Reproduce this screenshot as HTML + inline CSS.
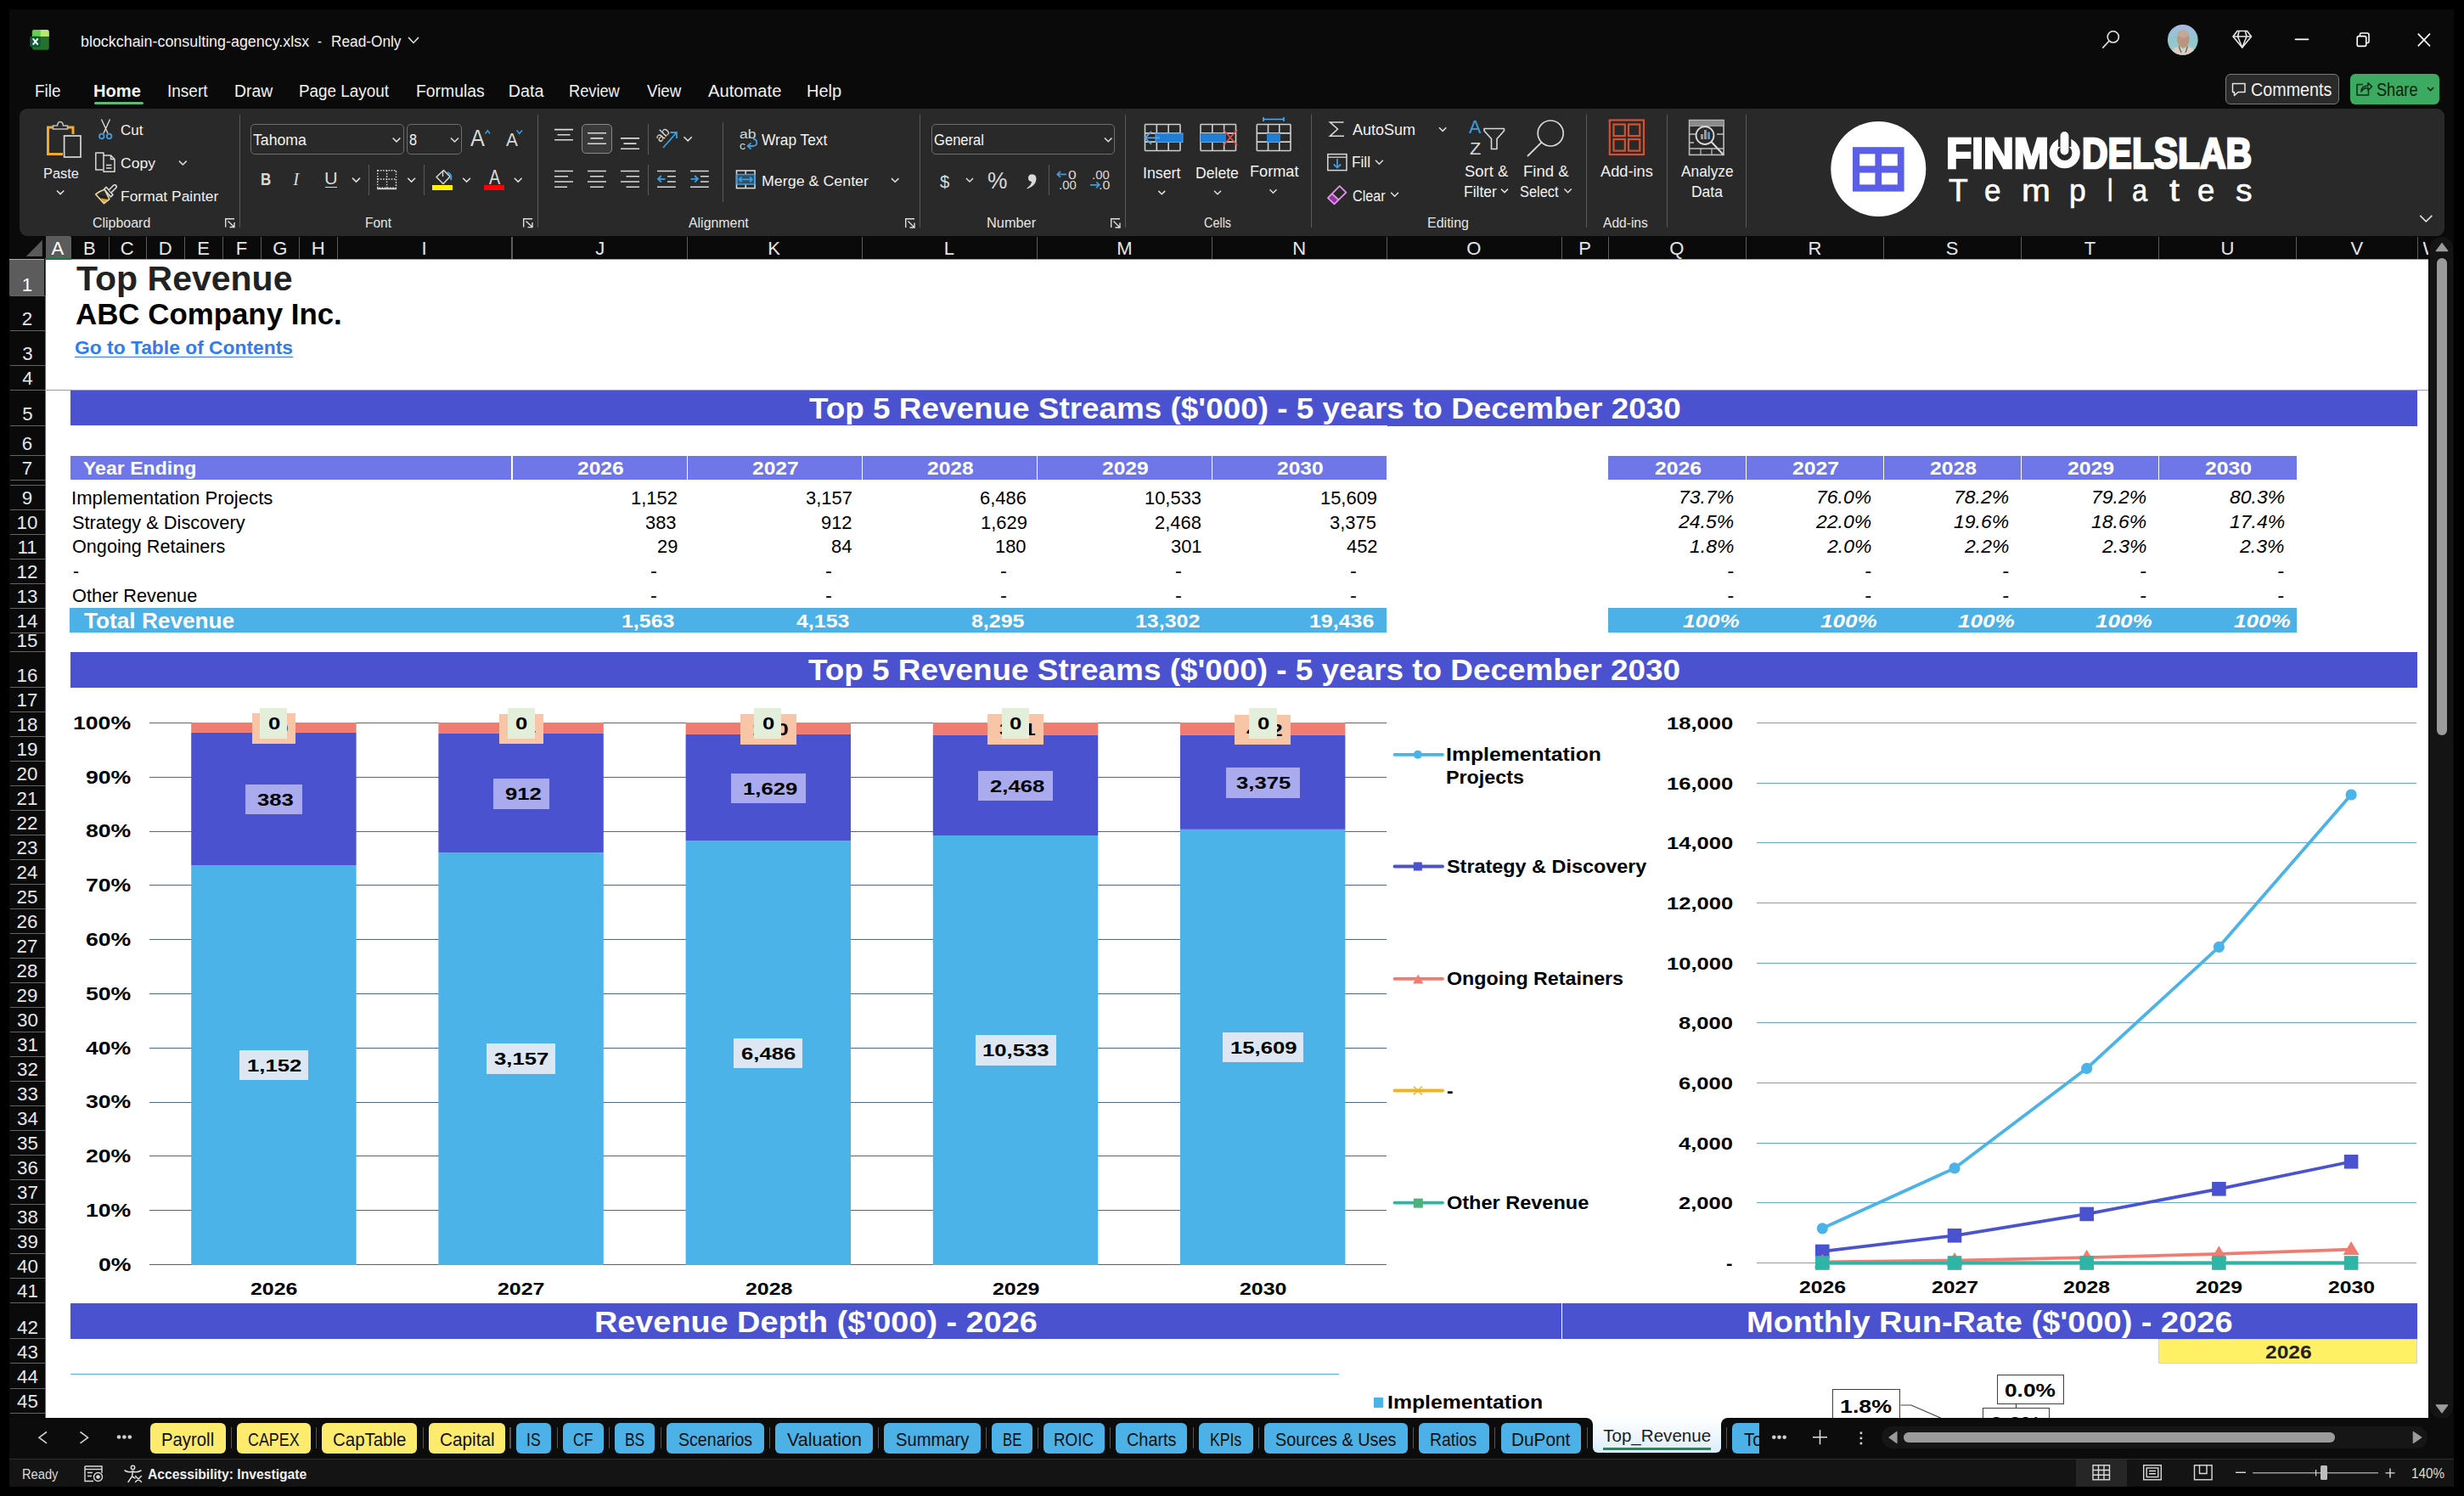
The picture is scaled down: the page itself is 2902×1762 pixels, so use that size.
<!DOCTYPE html>
<html><head><meta charset="utf-8"><title>Top Revenue</title>
<style>
html,body{margin:0;padding:0;width:2902px;height:1762px;overflow:hidden;background:#000;}
body{position:relative;font-family:"Liberation Sans",sans-serif;}
svg{overflow:visible}
</style></head><body>
<div style="position:absolute;left:0.00px;top:0.00px;width:2902.00px;height:1762.00px;background:#000;"></div>
<div style="position:absolute;left:11.00px;top:11.00px;width:2879.00px;height:1740.00px;background:#0a0a0a;"></div>
<svg style="position:absolute;left:0;top:0" width="2902" height="1762" viewBox="0 0 2902 1762"><g>
<rect x="37.9" y="34.9" width="19.9" height="23.8" rx="2.6" fill="#23722b"/>
<path d="M40.5 34.9 L47.3 34.9 L47.3 43 L37.9 43 L37.9 37.5 Q37.9 34.9 40.5 34.9 Z" fill="#66cc55"/>
<path d="M47.3 34.9 L55.2 34.9 Q57.8 34.9 57.8 37.5 L57.8 43 L47.3 43 Z" fill="#b8e670"/>
<rect x="35.2" y="42.7" width="12.4" height="12.7" rx="2" fill="#0c5b36"/>
<path d="M38.7 45.3 L44.7 52.6 M44.7 45.3 L38.7 52.6" stroke="#f4fff8" stroke-width="2.1"/>
</g></svg>
<span style="position:absolute;left:94.53px;top:39.50px;font:normal 400 18.41px/1 'Liberation Sans';color:#f2f2f2;white-space:pre;transform:scaleX(0.9718);transform-origin:0 0;">blockchain-consulting-agency.xlsx</span>
<span style="position:absolute;left:374.20px;top:39.50px;font:normal 400 18.41px/1 'Liberation Sans';color:#f2f2f2;white-space:pre;transform:scaleX(0.8000);transform-origin:0 0;">-</span>
<span style="position:absolute;left:389.56px;top:39.50px;font:normal 400 18.41px/1 'Liberation Sans';color:#f2f2f2;white-space:pre;transform:scaleX(0.9372);transform-origin:0 0;">Read-Only</span>
<svg style="position:absolute;left:0;top:0" width="2902" height="1762" viewBox="0 0 2902 1762"><path d="M481 44 L487 50.5 L493 44" fill="none" stroke="#e8e8e8" stroke-width="1.5"/><g fill="none" stroke="#e6e6e6" stroke-width="1.6">
<circle cx="2488.8" cy="43.4" r="6.6"/>
<path d="M2484 48.3 L2476.3 56.6"/>
</g><defs><clipPath id="avc"><circle cx="2570.8" cy="46.9" r="17.9"/></clipPath>
<linearGradient id="avg" x1="0" y1="0" x2="0" y2="1"><stop offset="0" stop-color="#a9b9e0"/><stop offset="0.3" stop-color="#9cc0d8"/><stop offset="0.45" stop-color="#8fc6cc"/><stop offset="1" stop-color="#9ccfd0"/></linearGradient></defs>
<g clip-path="url(#avc)">
<rect x="2552" y="28" width="38" height="38" fill="url(#avg)"/>
<ellipse cx="2571.3" cy="46" rx="7.3" ry="10.2" fill="#b8967f"/>
<ellipse cx="2571.3" cy="40" rx="6.6" ry="4.5" fill="#c3a896"/>
<path d="M2556 66 Q2558 56 2566 54.5 L2571.3 58 L2576.5 54.5 Q2585 56 2587 66 Z" fill="#d9cfc2"/>
<path d="M2566 54.5 L2569 62 M2576.5 54.5 L2574 62" stroke="#6b5a4c" stroke-width="1.2"/>
</g><g fill="none" stroke="#e6e6e6" stroke-width="1.6" stroke-linejoin="round">
<path d="M2635 36.5 L2646.5 36.5 L2651.5 43 L2640.8 56 L2630 43 Z"/>
<path d="M2630 43 L2651.5 43 M2637 37 L2635.5 43 L2640.8 56 L2646 43 L2644.5 37"/>
</g><path d="M2703.5 46.3 L2718.5 46.3" stroke="#ffffff" stroke-width="1.7" stroke-linecap="round"/><g fill="none" stroke="#ffffff" stroke-width="1.6">
<rect x="2776.2" y="42.6" width="10.6" height="11.8" rx="2"/>
<path d="M2779.5 42 L2779.5 40.5 Q2779.5 39 2781 39 L2788 39 Q2790 39 2790 41 L2790 49 Q2790 50.5 2788.5 50.5 L2787 50.5"/>
</g><path d="M2847.8 39.6 L2862 54.4 M2862 39.6 L2847.8 54.4" stroke="#ffffff" stroke-width="1.6"/></svg>
<span style="position:absolute;left:41.24px;top:97.60px;font:normal 400 19.71px/1 'Liberation Sans';color:#f2f2f2;white-space:pre;transform:scaleX(0.9613);transform-origin:0 0;">File</span>
<span style="position:absolute;left:110.36px;top:97.60px;font:normal 700 19.43px/1 'Liberation Sans';color:#f2f2f2;white-space:pre;transform:scaleX(1.0353);transform-origin:0 0;">Home</span>
<span style="position:absolute;left:197.03px;top:97.60px;font:normal 400 19.71px/1 'Liberation Sans';color:#f2f2f2;white-space:pre;transform:scaleX(0.9651);transform-origin:0 0;">Insert</span>
<span style="position:absolute;left:276.22px;top:97.60px;font:normal 400 19.71px/1 'Liberation Sans';color:#f2f2f2;white-space:pre;transform:scaleX(0.9836);transform-origin:0 0;">Draw</span>
<span style="position:absolute;left:352.04px;top:97.60px;font:normal 400 19.71px/1 'Liberation Sans';color:#f2f2f2;white-space:pre;transform:scaleX(0.9585);transform-origin:0 0;">Page Layout</span>
<span style="position:absolute;left:490.02px;top:97.60px;font:normal 400 19.71px/1 'Liberation Sans';color:#f2f2f2;white-space:pre;transform:scaleX(0.9845);transform-origin:0 0;">Formulas</span>
<span style="position:absolute;left:598.80px;top:97.60px;font:normal 400 19.71px/1 'Liberation Sans';color:#f2f2f2;white-space:pre;">Data</span>
<span style="position:absolute;left:669.97px;top:97.60px;font:normal 400 19.71px/1 'Liberation Sans';color:#f2f2f2;white-space:pre;transform:scaleX(0.9258);transform-origin:0 0;">Review</span>
<span style="position:absolute;left:761.80px;top:97.60px;font:normal 400 19.71px/1 'Liberation Sans';color:#f2f2f2;white-space:pre;transform:scaleX(0.9508);transform-origin:0 0;">View</span>
<span style="position:absolute;left:834.00px;top:97.60px;font:normal 400 19.71px/1 'Liberation Sans';color:#f2f2f2;white-space:pre;transform:scaleX(1.0252);transform-origin:0 0;">Automate</span>
<span style="position:absolute;left:949.89px;top:97.60px;font:normal 400 19.71px/1 'Liberation Sans';color:#f2f2f2;white-space:pre;transform:scaleX(1.0135);transform-origin:0 0;">Help</span>
<div style="position:absolute;left:111.00px;top:120.00px;width:58.00px;height:3.00px;background:#5fb878;border-radius:1.5px;"></div>
<div style="position:absolute;left:2621.00px;top:87.00px;width:134.00px;height:36.00px;background:#2a2a2a;box-sizing:border-box;border:1.3px solid #7a7a7a;border-radius:6px;"></div>
<svg style="position:absolute;left:0;top:0" width="2902" height="1762" viewBox="0 0 2902 1762"><g fill="none" stroke="#e6e6e6" stroke-width="1.5" stroke-linejoin="round">
<path d="M2629.5 98.5 L2644 98.5 L2644 108.5 L2636 108.5 L2631.5 112.5 L2631.5 108.5 L2629.5 108.5 Z"/></g></svg>
<span style="position:absolute;left:2651.47px;top:95.30px;font:normal 400 21.16px/1 'Liberation Sans';color:#f2f2f2;white-space:pre;transform:scaleX(0.9321);transform-origin:0 0;">Comments</span>
<div style="position:absolute;left:2768.00px;top:87.00px;width:105.00px;height:36.00px;background:#3caa60;border-radius:6px;"></div>
<svg style="position:absolute;left:0;top:0" width="2902" height="1762" viewBox="0 0 2902 1762"><g fill="none" stroke="#0f2a17" stroke-width="1.5" stroke-linejoin="round">
<path d="M2783 99.5 L2776 99.5 L2776 112 L2789.5 112 L2789.5 107"/>
<path d="M2781 108 Q2781 101 2789 101 L2789 97.5 L2793.5 102 L2789 106.5 L2789 103.5 Q2783.5 103.5 2781 108 Z"/></g></svg>
<span style="position:absolute;left:2799.20px;top:95.30px;font:normal 400 21.16px/1 'Liberation Sans';color:#0c1f12;white-space:pre;transform:scaleX(0.8589);transform-origin:0 0;">Share</span>
<svg style="position:absolute;left:0;top:0" width="2902" height="1762" viewBox="0 0 2902 1762"><path d="M2859 103 L2862.6 106.6 L2866.2 103" fill="none" stroke="#0c1f12" stroke-width="1.5"/></svg>
<div style="position:absolute;left:23.00px;top:128.00px;width:2856.00px;height:150.00px;background:#292929;border-radius:9px;"></div>
<div style="position:absolute;left:282.00px;top:135.00px;width:1.00px;height:133.00px;background:#5a5a5a;"></div>
<div style="position:absolute;left:633.00px;top:135.00px;width:1.00px;height:133.00px;background:#5a5a5a;"></div>
<div style="position:absolute;left:1083.00px;top:135.00px;width:1.00px;height:133.00px;background:#5a5a5a;"></div>
<div style="position:absolute;left:1325.00px;top:135.00px;width:1.00px;height:133.00px;background:#5a5a5a;"></div>
<div style="position:absolute;left:1544.00px;top:135.00px;width:1.00px;height:133.00px;background:#5a5a5a;"></div>
<div style="position:absolute;left:1868.00px;top:135.00px;width:1.00px;height:133.00px;background:#5a5a5a;"></div>
<div style="position:absolute;left:1963.00px;top:135.00px;width:1.00px;height:133.00px;background:#5a5a5a;"></div>
<div style="position:absolute;left:2056.00px;top:135.00px;width:1.00px;height:133.00px;background:#5a5a5a;"></div>
<div style="position:absolute;left:434.00px;top:194.00px;width:1.00px;height:36.00px;background:#5a5a5a;"></div>
<div style="position:absolute;left:499.00px;top:194.00px;width:1.00px;height:36.00px;background:#5a5a5a;"></div>
<div style="position:absolute;left:763.00px;top:146.00px;width:1.00px;height:36.00px;background:#5a5a5a;"></div>
<div style="position:absolute;left:763.00px;top:194.00px;width:1.00px;height:36.00px;background:#5a5a5a;"></div>
<div style="position:absolute;left:851.00px;top:144.00px;width:1.00px;height:94.00px;background:#5a5a5a;"></div>
<div style="position:absolute;left:1235.00px;top:194.00px;width:1.00px;height:36.00px;background:#5a5a5a;"></div>
<span style="position:absolute;left:109.30px;top:255.00px;font:normal 400 15.65px/1 'Liberation Sans';color:#e6e6e6;white-space:pre;transform:scaleX(1.0204);transform-origin:0 0;">Clipboard</span>
<span style="position:absolute;left:429.51px;top:255.00px;font:normal 400 15.65px/1 'Liberation Sans';color:#e6e6e6;white-space:pre;transform:scaleX(0.9919);transform-origin:0 0;">Font</span>
<span style="position:absolute;left:810.70px;top:255.00px;font:normal 400 15.65px/1 'Liberation Sans';color:#e6e6e6;white-space:pre;transform:scaleX(1.0156);transform-origin:0 0;">Alignment</span>
<span style="position:absolute;left:1162.35px;top:255.00px;font:normal 400 15.65px/1 'Liberation Sans';color:#e6e6e6;white-space:pre;transform:scaleX(1.0456);transform-origin:0 0;">Number</span>
<span style="position:absolute;left:1418.00px;top:255.00px;font:normal 400 15.65px/1 'Liberation Sans';color:#e6e6e6;white-space:pre;transform:scaleX(0.9215);transform-origin:0 0;">Cells</span>
<span style="position:absolute;left:1681.38px;top:255.00px;font:normal 400 15.65px/1 'Liberation Sans';color:#e6e6e6;white-space:pre;transform:scaleX(1.0233);transform-origin:0 0;">Editing</span>
<span style="position:absolute;left:1888.00px;top:255.00px;font:normal 400 15.65px/1 'Liberation Sans';color:#e6e6e6;white-space:pre;transform:scaleX(0.9960);transform-origin:0 0;">Add-ins</span>
<svg style="position:absolute;left:0;top:0" width="2902" height="1762" viewBox="0 0 2902 1762"><g fill="none" stroke="#e0e0e0" stroke-width="1.4"><path d="M265.7 267.5 L265.7 257.7 L276 257.7"/><path d="M268.5 260.5 L276 267.5 M276 262.0 L276 267.5 L270.5 267.5"/></g><g fill="none" stroke="#e0e0e0" stroke-width="1.4"><path d="M616.7 267.6 L616.7 257.7 L627 257.7"/><path d="M619.5 260.5 L627 267.6 M627 262.1 L627 267.6 L621.5 267.6"/></g><g fill="none" stroke="#e0e0e0" stroke-width="1.4"><path d="M1066.7 268 L1066.7 257.7 L1077 257.7"/><path d="M1069.5 260.5 L1077 268 M1077 262.5 L1077 268 L1071.5 268"/></g><g fill="none" stroke="#e0e0e0" stroke-width="1.4"><path d="M1308.7 268 L1308.7 257.7 L1319 257.7"/><path d="M1311.5 260.5 L1319 268 M1319 262.5 L1319 268 L1313.5 268"/></g><g fill="none" stroke-linejoin="miter">
<path d="M63 150 L56.5 150 L56.5 181.5 L74 181.5" stroke="#f0a830" stroke-width="3"/>
<path d="M79.5 150 L86 150 L86 158" stroke="#f0a830" stroke-width="3"/>
<path d="M62.5 152 L62.5 148 L67.5 148 Q68 143.5 71 143.5 Q74 143.5 74.5 148 L79.5 148 L79.5 152 Z" stroke="#bdbdbd" stroke-width="1.6" fill="#292929"/>
<rect x="75.6" y="160" width="19.4" height="25" stroke="#d9d9d9" stroke-width="1.7" fill="#292929"/>
</g></svg>
<span style="position:absolute;left:50.84px;top:196.00px;font:normal 400 17.10px/1 'Liberation Sans';color:#f2f2f2;white-space:pre;transform:scaleX(0.9596);transform-origin:0 0;">Paste</span>
<svg style="position:absolute;left:0;top:0" width="2902" height="1762" viewBox="0 0 2902 1762"><path d="M67 224.43 L71.15 228.57 L75.3 224.43" fill="none" stroke="#e0e0e0" stroke-width="1.5"/><g fill="none" stroke-width="1.4">
<path d="M119.5 140.5 L127 157 M129.5 140.5 L122 157" stroke="#d9d9d9"/>
<circle cx="119.8" cy="160.5" r="2.8" stroke="#3b9de0" stroke-width="1.8"/>
<circle cx="128.6" cy="160.5" r="2.8" stroke="#3b9de0" stroke-width="1.8"/>
</g></svg>
<span style="position:absolute;left:142.20px;top:146.00px;font:normal 400 16.67px/1 'Liberation Sans';color:#f2f2f2;white-space:pre;transform:scaleX(1.0193);transform-origin:0 0;">Cut</span>
<svg style="position:absolute;left:0;top:0" width="2902" height="1762" viewBox="0 0 2902 1762"><g fill="none" stroke="#d9d9d9" stroke-width="1.5" stroke-linejoin="round">
<path d="M122 183 L122 180 L112.8 180 L112.8 200 L121 200"/>
<path d="M122 183 L130.5 183 L135 187.5 L135 202.3 L122 202.3 Z"/>
<path d="M130.5 183 L130.5 187.5 L135 187.5"/>
<path d="M125 194.5 L131.5 194.5 M125 198 L131.5 198"/>
</g></svg>
<span style="position:absolute;left:142.20px;top:184.90px;font:normal 400 16.81px/1 'Liberation Sans';color:#f2f2f2;white-space:pre;transform:scaleX(1.0449);transform-origin:0 0;">Copy</span>
<svg style="position:absolute;left:0;top:0" width="2902" height="1762" viewBox="0 0 2902 1762"><path d="M211 189.62 L215.35 193.98 L219.7 189.62" fill="none" stroke="#e0e0e0" stroke-width="1.5"/><g stroke-linejoin="round">
<path d="M118.6 233.4 L127.4 235 L122.6 238.8 Z" fill="#e8a020"/>
<path d="M112.6 228.8 Q118 224.6 123.3 223.2 L128.8 234.6 L122.5 239.6 Z" fill="none" stroke="#f3d9a0" stroke-width="1.6"/>
<path d="M116 230.5 L126.5 233" stroke="#1a1a1a" stroke-width="1.4"/>
<path d="M122.6 222.9 L125.2 220.4 L133 229.4 L130.5 231.9 Z" fill="#292929" stroke="#d9d9d9" stroke-width="1.6"/>
<path d="M128.3 223.8 L133.2 218.7 Q135.2 216.9 136.7 218.4 Q138 219.9 136.2 221.7 L131.2 226.6" fill="#292929" stroke="#d9d9d9" stroke-width="1.6"/>
</g></svg>
<span style="position:absolute;left:141.68px;top:223.00px;font:normal 400 17.10px/1 'Liberation Sans';color:#f2f2f2;white-space:pre;transform:scaleX(1.0191);transform-origin:0 0;">Format Painter</span>
<div style="position:absolute;left:295.00px;top:146.00px;width:181.00px;height:36.00px;background:transparent;box-sizing:border-box;border:1.2px solid #6e6e6e;border-radius:5px;"></div>
<div style="position:absolute;left:479.00px;top:146.00px;width:65.00px;height:36.00px;background:transparent;box-sizing:border-box;border:1.2px solid #6e6e6e;border-radius:5px;"></div>
<span style="position:absolute;left:298.30px;top:155.00px;font:normal 400 18.99px/1 'Liberation Sans';color:#f2f2f2;white-space:pre;transform:scaleX(0.9303);transform-origin:0 0;">Tahoma</span>
<span style="position:absolute;left:482.40px;top:156.00px;font:normal 400 18.71px/1 'Liberation Sans';color:#f2f2f2;white-space:pre;transform:scaleX(0.8700);transform-origin:0 0;">8</span>
<svg style="position:absolute;left:0;top:0" width="2902" height="1762" viewBox="0 0 2902 1762"><path d="M462.6 162.50 L467.00 166.90 L471.4 162.50" fill="none" stroke="#e0e0e0" stroke-width="1.5"/><path d="M531 162.45 L535.50 166.95 L540 162.45" fill="none" stroke="#e0e0e0" stroke-width="1.5"/></svg>
<span style="position:absolute;left:554.00px;top:147.80px;font:normal 400 28.26px/1 'Liberation Sans';color:#d9d9d9;white-space:pre;transform:scaleX(0.8947);transform-origin:0 0;">A</span>
<svg style="position:absolute;left:0;top:0" width="2902" height="1762" viewBox="0 0 2902 1762"><path d="M571.5 157.5 L574.3 153.8 L577 157.5" fill="none" stroke="#3b9de0" stroke-width="1.5"/></svg>
<span style="position:absolute;left:595.60px;top:153.80px;font:normal 400 22.46px/1 'Liberation Sans';color:#d9d9d9;white-space:pre;transform:scaleX(0.9267);transform-origin:0 0;">A</span>
<svg style="position:absolute;left:0;top:0" width="2902" height="1762" viewBox="0 0 2902 1762"><path d="M608.5 153.5 L611.7 157.3 L615 153.5" fill="none" stroke="#3b9de0" stroke-width="1.5"/></svg>
<span style="position:absolute;left:306.99px;top:200.80px;font:normal 700 20.86px/1 'Liberation Sans';color:#d9d9d9;white-space:pre;transform:scaleX(0.8143);transform-origin:0 0;">B</span>
<span style="position:absolute;left:345.2px;top:201.3px;font:italic 400 20.5px/1 'Liberation Serif';color:#d9d9d9;">I</span>
<span style="position:absolute;left:382.42px;top:200.20px;font:normal 400 20.00px/1 'Liberation Sans';color:#d9d9d9;white-space:pre;transform:scaleX(1.0833);transform-origin:0 0;">U</span>
<div style="position:absolute;left:383.00px;top:220.00px;width:14.00px;height:1.00px;background:#d9d9d9;"></div>
<svg style="position:absolute;left:0;top:0" width="2902" height="1762" viewBox="0 0 2902 1762"><path d="M415 209.65 L419.50 214.15 L424 209.65" fill="none" stroke="#e0e0e0" stroke-width="1.5"/><g fill="none" stroke="#d9d9d9" stroke-width="1.4" stroke-dasharray="1.6 1.6">
<rect x="444.7" y="200.7" width="21.8" height="20.5"/>
<path d="M444.7 211 L466.5 211 M455.6 200.7 L455.6 221.2"/></g>
<path d="M444 222.3 L467 222.3" stroke="#d9d9d9" stroke-width="1.8"/><path d="M480.2 209.70 L484.60 214.10 L489 209.70" fill="none" stroke="#e0e0e0" stroke-width="1.5"/><g fill="none" stroke-linejoin="round">
<path d="M514 208.5 L522.5 200.5 L530 208 L522 216.5 Z" stroke="#d9d9d9" stroke-width="1.5"/>
<path d="M521.5 201.5 L521.5 208" stroke="#d9d9d9" stroke-width="1.4"/>
<path d="M527 203 Q532.5 205 531 212" stroke="#3b9de0" stroke-width="2"/></g></svg>
<div style="position:absolute;left:509.00px;top:218.00px;width:24.00px;height:6.00px;background:#fff200;"></div>
<svg style="position:absolute;left:0;top:0" width="2902" height="1762" viewBox="0 0 2902 1762"><path d="M545.2 209.70 L549.60 214.10 L554 209.70" fill="none" stroke="#e0e0e0" stroke-width="1.5"/></svg>
<span style="position:absolute;left:575.50px;top:197.80px;font:normal 400 23.48px/1 'Liberation Sans';color:#d9d9d9;white-space:pre;transform:scaleX(0.8438);transform-origin:0 0;">A</span>
<div style="position:absolute;left:570.00px;top:218.00px;width:24.00px;height:6.00px;background:#ff0000;"></div>
<svg style="position:absolute;left:0;top:0" width="2902" height="1762" viewBox="0 0 2902 1762"><path d="M605.8 209.70 L610.20 214.10 L614.6 209.70" fill="none" stroke="#e0e0e0" stroke-width="1.5"/></svg>
<div style="position:absolute;left:685.00px;top:146.00px;width:36.00px;height:35.00px;background:#3a3a3a;box-sizing:border-box;border:1.2px solid #8a8a8a;border-radius:5px;"></div>
<svg style="position:absolute;left:0;top:0" width="2902" height="1762" viewBox="0 0 2902 1762"><path d="M653 152.6 L675 152.6 M656.5 158.7 L671.5 158.7 M653 164.8 L675 164.8 " stroke="#d9d9d9" stroke-width="1.6"/><path d="M692 156.7 L714 156.7 M695.5 162.9 L710.5 162.9 M692 169.2 L714 169.2 " stroke="#d9d9d9" stroke-width="1.6"/><path d="M731 162.9 L753 162.9 M734.5 169.1 L749.5 169.1 M731 175.2 L753 175.2 " stroke="#d9d9d9" stroke-width="1.6"/><path d="M653 201.5 L675 201.5 M653 207.7 L669 207.7 M653 214 L675 214 M653 220.2 L668 220.2 " stroke="#d9d9d9" stroke-width="1.6"/><path d="M692 201.5 L714 201.5 M695 207.7 L711 207.7 M692 214 L714 214 M695 220.2 L711 220.2 " stroke="#d9d9d9" stroke-width="1.6"/><path d="M731 201.5 L753 201.5 M737.5 207.7 L753 207.7 M731 214 L753 214 M737.5 220.2 L753 220.2 " stroke="#d9d9d9" stroke-width="1.6"/><path d="M774 201.5 L795.8 201.5 M786 207.7 L795.8 207.7 M786 214 L795.8 214 M774 220.2 L795.8 220.2 " stroke="#d9d9d9" stroke-width="1.6"/><path d="M813 201.5 L834.8 201.5 M825 207.7 L834.8 207.7 M825 214 L834.8 214 M813 220.2 L834.8 220.2 " stroke="#d9d9d9" stroke-width="1.6"/><g fill="none" stroke="#3b9de0" stroke-width="1.8">
<path d="M775 210.8 L783.5 210.8 M778.8 207 L775 210.8 L778.8 214.6"/>
<path d="M813.5 210.8 L822 210.8 M818.2 207 L822 210.8 L818.2 214.6"/></g></svg>
<span style="position:absolute;left:771.5px;top:149.5px;font:400 15.5px/1 'Liberation Sans';color:#d9d9d9;transform:rotate(-45deg);transform-origin:9px 9px;">ab</span>
<svg style="position:absolute;left:0;top:0" width="2902" height="1762" viewBox="0 0 2902 1762"><g fill="none" stroke="#3b9de0" stroke-width="1.8"><path d="M781 174 L796.5 156.5 M789.5 156 L797 155.8 L797 163"/></g><path d="M805.5 161.18 L810.15 165.82 L814.8 161.18" fill="none" stroke="#e0e0e0" stroke-width="1.5"/></svg>
<span style="position:absolute;left:871.00px;top:150.50px;font:normal 400 14.38px/1 'Liberation Sans';color:#d9d9d9;white-space:pre;transform:scaleX(1.2192);transform-origin:0 0;">ab</span>
<span style="position:absolute;left:871.00px;top:165.50px;font:normal 400 12.04px/1 'Liberation Sans';color:#d9d9d9;white-space:pre;transform:scaleX(1.1667);transform-origin:0 0;">c</span>
<svg style="position:absolute;left:0;top:0" width="2902" height="1762" viewBox="0 0 2902 1762"><g fill="none" stroke="#3b9de0" stroke-width="1.8"><path d="M887 163.5 Q891.5 164 891.3 168.5 Q891 172 886.5 172 L880.5 172 M884.5 168.3 L880.5 172 L884.5 175.6"/></g></svg>
<span style="position:absolute;left:897.30px;top:156.70px;font:normal 400 17.54px/1 'Liberation Sans';color:#f2f2f2;white-space:pre;transform:scaleX(0.9879);transform-origin:0 0;">Wrap Text</span>
<svg style="position:absolute;left:0;top:0" width="2902" height="1762" viewBox="0 0 2902 1762"><g fill="none" stroke="#d9d9d9" stroke-width="1.6">
<rect x="867.5" y="201" width="21.5" height="20.6"/>
<path d="M878.2 201 L878.2 205.5 M878.2 217 L878.2 221.6"/></g>
<rect x="867.5" y="205.5" width="21.5" height="11.5" fill="#3b9de0" opacity="0.35"/>
<g fill="none" stroke="#3b9de0" stroke-width="1.7"><path d="M867.5 205.5 L889 205.5 M867.5 217 L889 217 M867.5 205.5 L867.5 217 M889 205.5 L889 217"/>
<path d="M870.5 211.3 L886 211.3 M873.5 208.3 L870.5 211.3 L873.5 214.3 M883 208.3 L886 211.3 L883 214.3"/></g></svg>
<span style="position:absolute;left:896.87px;top:204.90px;font:normal 400 17.25px/1 'Liberation Sans';color:#f2f2f2;white-space:pre;transform:scaleX(1.0346);transform-origin:0 0;">Merge &amp; Center</span>
<svg style="position:absolute;left:0;top:0" width="2902" height="1762" viewBox="0 0 2902 1762"><path d="M1050 210.10 L1054.20 214.30 L1058.4 210.10" fill="none" stroke="#e0e0e0" stroke-width="1.5"/></svg>
<div style="position:absolute;left:1097.00px;top:146.00px;width:216.00px;height:36.00px;background:transparent;box-sizing:border-box;border:1.2px solid #6e6e6e;border-radius:5px;"></div>
<span style="position:absolute;left:1099.50px;top:155.80px;font:normal 400 18.41px/1 'Liberation Sans';color:#f2f2f2;white-space:pre;transform:scaleX(0.9014);transform-origin:0 0;">General</span>
<svg style="position:absolute;left:0;top:0" width="2902" height="1762" viewBox="0 0 2902 1762"><path d="M1301 162.47 L1305.25 166.72 L1309.5 162.47" fill="none" stroke="#e0e0e0" stroke-width="1.5"/></svg>
<span style="position:absolute;left:1107.30px;top:203.50px;font:normal 400 20.95px/1 'Liberation Sans';color:#d9d9d9;white-space:pre;transform:scaleX(0.9750);transform-origin:0 0;">$</span>
<svg style="position:absolute;left:0;top:0" width="2902" height="1762" viewBox="0 0 2902 1762"><path d="M1138 210.00 L1142.00 214.00 L1146 210.00" fill="none" stroke="#e0e0e0" stroke-width="1.5"/></svg>
<span style="position:absolute;left:1162.87px;top:198.00px;font:normal 400 28.26px/1 'Liberation Sans';color:#d9d9d9;white-space:pre;transform:scaleX(0.9333);transform-origin:0 0;">%</span>
<svg style="position:absolute;left:0;top:0" width="2902" height="1762" viewBox="0 0 2902 1762"><path d="M1215.5 205.2 Q1220.8 205.2 1220.5 211.5 Q1219.8 218.5 1210 222.6 L1209.5 221.4 Q1214.5 218.5 1215 214 Q1211 213.5 1211 209.8 Q1211 205.2 1215.5 205.2 Z" fill="#d9d9d9"/></svg>
<span style="position:absolute;left:1258.00px;top:198.50px;font:normal 400 14.71px/1 'Liberation Sans';color:#d9d9d9;white-space:pre;transform:scaleX(1.1875);transform-origin:0 0;">0</span>
<span style="position:absolute;left:1246.99px;top:210.80px;font:normal 400 14.71px/1 'Liberation Sans';color:#d9d9d9;white-space:pre;transform:scaleX(1.0123);transform-origin:0 0;">.00</span>
<svg style="position:absolute;left:0;top:0" width="2902" height="1762" viewBox="0 0 2902 1762"><g fill="none" stroke="#3b9de0" stroke-width="1.7"><path d="M1245 205.3 L1256 205.3 M1249 201.8 L1245.3 205.3 L1249 208.8"/></g></svg>
<span style="position:absolute;left:1286.49px;top:198.50px;font:normal 400 14.71px/1 'Liberation Sans';color:#d9d9d9;white-space:pre;transform:scaleX(1.0123);transform-origin:0 0;">.00</span>
<span style="position:absolute;left:1293.92px;top:210.80px;font:normal 400 14.71px/1 'Liberation Sans';color:#d9d9d9;white-space:pre;transform:scaleX(1.0825);transform-origin:0 0;">.0</span>
<svg style="position:absolute;left:0;top:0" width="2902" height="1762" viewBox="0 0 2902 1762"><g fill="none" stroke="#3b9de0" stroke-width="1.7"><path d="M1284 217.8 L1295 217.8 M1291.2 214.3 L1294.8 217.8 L1291.2 221.3"/></g><path d="M1348.50 146.5 L1348.50 177.5 M1362.33 146.5 L1362.33 177.5 M1376.17 146.5 L1376.17 177.5 M1390.00 146.5 L1390.00 177.5 M1348.5 146.50 L1390 146.50 M1348.5 156.83 L1390 156.83 M1348.5 167.17 L1390 167.17 M1348.5 177.50 L1390 177.50 " stroke="#cfcfcf" stroke-width="1.6" fill="none"/><rect x="1361" y="157" width="32" height="10.5" fill="#1f7fd6"/><rect x="1361" y="157" width="32" height="10.5" fill="none" stroke="#58a8ec" stroke-width="1"/><g fill="none" stroke="#58a8ec" stroke-width="1.8"><path d="M1349 162.3 L1366 162.3 M1356 154.8 L1348.6 162.3 L1356 169.8"/></g></svg>
<span style="position:absolute;left:1346.33px;top:195.10px;font:normal 400 18.26px/1 'Liberation Sans';color:#f2f2f2;white-space:pre;transform:scaleX(0.9737);transform-origin:0 0;">Insert</span>
<svg style="position:absolute;left:0;top:0" width="2902" height="1762" viewBox="0 0 2902 1762"><path d="M1364.4 224.85 L1368.30 228.75 L1372.2 224.85" fill="none" stroke="#e0e0e0" stroke-width="1.5"/><path d="M1414.00 146.5 L1414.00 177.5 M1427.83 146.5 L1427.83 177.5 M1441.67 146.5 L1441.67 177.5 M1455.50 146.5 L1455.50 177.5 M1414 146.50 L1455.5 146.50 M1414 156.83 L1455.5 156.83 M1414 167.17 L1455.5 167.17 M1414 177.50 L1455.5 177.50 " stroke="#cfcfcf" stroke-width="1.6" fill="none"/><rect x="1414" y="157" width="30" height="10.5" fill="#1f7fd6"/><path d="M1441 153 L1457 171 M1457 153 L1441 171" stroke="#e8504a" stroke-width="1.8"/></svg>
<span style="position:absolute;left:1408.23px;top:195.10px;font:normal 400 18.26px/1 'Liberation Sans';color:#f2f2f2;white-space:pre;transform:scaleX(0.9650);transform-origin:0 0;">Delete</span>
<svg style="position:absolute;left:0;top:0" width="2902" height="1762" viewBox="0 0 2902 1762"><path d="M1430 224.80 L1434.00 228.80 L1438 224.80" fill="none" stroke="#e0e0e0" stroke-width="1.5"/><path d="M1480.30 146.5 L1480.30 177.5 M1493.53 146.5 L1493.53 177.5 M1506.77 146.5 L1506.77 177.5 M1520.00 146.5 L1520.00 177.5 M1480.3 146.50 L1520 146.50 M1480.3 156.83 L1520 156.83 M1480.3 167.17 L1520 167.17 M1480.3 177.50 L1520 177.50 " stroke="#cfcfcf" stroke-width="1.6" fill="none"/><rect x="1492" y="157" width="16" height="10.5" fill="#1f7fd6"/><path d="M1488 140.5 L1512 140.5 M1488 138 L1488 143 M1512 138 L1512 143" stroke="#58a8ec" stroke-width="1.6" fill="none"/></svg>
<span style="position:absolute;left:1471.61px;top:192.80px;font:normal 400 18.26px/1 'Liberation Sans';color:#f2f2f2;white-space:pre;transform:scaleX(0.9942);transform-origin:0 0;">Format</span>
<svg style="position:absolute;left:0;top:0" width="2902" height="1762" viewBox="0 0 2902 1762"><path d="M1495.5 223.20 L1499.50 227.20 L1503.5 223.20" fill="none" stroke="#e0e0e0" stroke-width="1.5"/><path d="M1582.5 144 L1566.5 144 L1575.5 152 L1566.5 160.2 L1583 160.2" fill="none" stroke="#d9d9d9" stroke-width="1.6"/></svg>
<span style="position:absolute;left:1593.30px;top:145.00px;font:normal 400 17.54px/1 'Liberation Sans';color:#f2f2f2;white-space:pre;transform:scaleX(1.0272);transform-origin:0 0;">AutoSum</span>
<svg style="position:absolute;left:0;top:0" width="2902" height="1762" viewBox="0 0 2902 1762"><path d="M1695 150.23 L1699.15 154.38 L1703.3 150.23" fill="none" stroke="#e0e0e0" stroke-width="1.5"/><rect x="1563.8" y="181.6" width="22.2" height="19" fill="none" stroke="#d9d9d9" stroke-width="1.5"/><path d="M1563.8 185.2 L1586 185.2" stroke="#d9d9d9" stroke-width="1.3"/><g fill="none" stroke="#3b9de0" stroke-width="1.8"><path d="M1575 187 L1575 197.5 M1570.8 193.5 L1575 197.5 L1579.2 193.5"/></g></svg>
<span style="position:absolute;left:1592.32px;top:183.30px;font:normal 400 17.54px/1 'Liberation Sans';color:#f2f2f2;white-space:pre;transform:scaleX(0.9813);transform-origin:0 0;">Fill</span>
<svg style="position:absolute;left:0;top:0" width="2902" height="1762" viewBox="0 0 2902 1762"><path d="M1620 188.80 L1624.40 193.20 L1628.8 188.80" fill="none" stroke="#e0e0e0" stroke-width="1.5"/><path d="M1563.9 233.2 L1569.1 228.5 L1576.4 235.2 L1571.5 240.4 Z" fill="#9a2fa8"/><path d="M1577.7 219.2 L1585.4 226.6 L1571.5 240.4 L1563.9 233.2 Z M1569.1 228.5 L1576.4 235.2" fill="none" stroke="#dd99e6" stroke-width="1.8" stroke-linejoin="round"/></svg>
<span style="position:absolute;left:1593.30px;top:222.80px;font:normal 400 17.54px/1 'Liberation Sans';color:#f2f2f2;white-space:pre;transform:scaleX(0.9209);transform-origin:0 0;">Clear</span>
<svg style="position:absolute;left:0;top:0" width="2902" height="1762" viewBox="0 0 2902 1762"><path d="M1638.2 226.80 L1642.60 231.20 L1647 226.80" fill="none" stroke="#e0e0e0" stroke-width="1.5"/></svg>
<span style="position:absolute;left:1729.60px;top:139.00px;font:normal 400 21.74px/1 'Liberation Sans';color:#3b9de0;white-space:pre;transform:scaleX(0.9933);transform-origin:0 0;">A</span>
<span style="position:absolute;left:1730.50px;top:163.50px;font:normal 400 21.01px/1 'Liberation Sans';color:#d9d9d9;white-space:pre;transform:scaleX(1.0385);transform-origin:0 0;">Z</span>
<svg style="position:absolute;left:0;top:0" width="2902" height="1762" viewBox="0 0 2902 1762"><path d="M1748 151.5 L1771.5 151.5 L1771.5 154 L1763 163.5 L1763 175.5 L1756.5 175.5 L1756.5 163.5 L1748 154 Z" fill="none" stroke="#d9d9d9" stroke-width="1.6" stroke-linejoin="round"/></svg>
<span style="position:absolute;left:1725.20px;top:193.80px;font:normal 400 17.54px/1 'Liberation Sans';color:#f2f2f2;white-space:pre;transform:scaleX(1.0512);transform-origin:0 0;">Sort &amp;</span>
<span style="position:absolute;left:1723.50px;top:218.00px;font:normal 400 17.54px/1 'Liberation Sans';color:#f2f2f2;white-space:pre;transform:scaleX(0.9950);transform-origin:0 0;">Filter</span>
<svg style="position:absolute;left:0;top:0" width="2902" height="1762" viewBox="0 0 2902 1762"><path d="M1768 222.60 L1772.00 226.60 L1776 222.60" fill="none" stroke="#e0e0e0" stroke-width="1.5"/><circle cx="1826.2" cy="157" r="15" fill="none" stroke="#d9d9d9" stroke-width="1.7"/><path d="M1815.6 167.6 L1799 184" stroke="#d9d9d9" stroke-width="1.8"/></svg>
<span style="position:absolute;left:1794.24px;top:193.80px;font:normal 400 17.54px/1 'Liberation Sans';color:#f2f2f2;white-space:pre;transform:scaleX(1.0553);transform-origin:0 0;">Find &amp;</span>
<span style="position:absolute;left:1790.30px;top:218.00px;font:normal 400 17.54px/1 'Liberation Sans';color:#f2f2f2;white-space:pre;transform:scaleX(0.9341);transform-origin:0 0;">Select</span>
<svg style="position:absolute;left:0;top:0" width="2902" height="1762" viewBox="0 0 2902 1762"><path d="M1842.4 222.50 L1846.60 226.70 L1850.8 222.50" fill="none" stroke="#e0e0e0" stroke-width="1.5"/><g fill="none" stroke="#d35230" stroke-width="2.2">
<rect x="1895.8" y="141.5" width="40.2" height="40.5"/>
<rect x="1900.5" y="146.5" width="13.3" height="13.6"/><rect x="1918" y="146.5" width="13.3" height="13.6"/>
<rect x="1900.5" y="164" width="13.3" height="13.6"/><rect x="1918" y="164" width="13.3" height="13.6"/></g></svg>
<span style="position:absolute;left:1885.20px;top:193.80px;font:normal 400 17.54px/1 'Liberation Sans';color:#f2f2f2;white-space:pre;transform:scaleX(1.0397);transform-origin:0 0;">Add-ins</span>
<svg style="position:absolute;left:0;top:0" width="2902" height="1762" viewBox="0 0 2902 1762"><g fill="none" stroke="#bdbdbd" stroke-width="1.6">
<rect x="1989.6" y="141.6" width="40.5" height="40.8"/>
<path d="M1989.6 148 L2030.1 148 M1989.6 158 L1997 158 M2022 158 L2030.1 158 M1989.6 168 L1995 168 M1989.6 175 L2030.1 175 M2003 175 L2003 182.4 M2016 175 L2016 182.4" stroke-width="1.3"/></g>
<rect x="1990" y="142" width="40" height="5.5" fill="#8a8a8a"/>
<circle cx="2008" cy="159.5" r="10.5" fill="#292929" stroke="#d9d9d9" stroke-width="1.8"/>
<path d="M2015.5 167 L2029.5 182" stroke="#d9d9d9" stroke-width="2"/>
<rect x="2003" y="158" width="3" height="6" fill="#9a9a9a"/><rect x="2007" y="153" width="3" height="11" fill="#9a9a9a"/><rect x="2011" y="155.5" width="3" height="8.5" fill="#3b9de0"/></svg>
<span style="position:absolute;left:1980.00px;top:193.80px;font:normal 400 17.54px/1 'Liberation Sans';color:#f2f2f2;white-space:pre;transform:scaleX(0.9875);transform-origin:0 0;">Analyze</span>
<span style="position:absolute;left:1991.60px;top:218.00px;font:normal 400 17.54px/1 'Liberation Sans';color:#f2f2f2;white-space:pre;transform:scaleX(0.9957);transform-origin:0 0;">Data</span>
<svg style="position:absolute;left:0;top:0" width="2902" height="1762" viewBox="0 0 2902 1762"><circle cx="2212.3" cy="199" r="56" fill="#ffffff"/>
<rect x="2182" y="173.2" width="60.6" height="52.4" fill="#5b5fe8"/>
<rect x="2190.2" y="181.3" width="18.2" height="14" fill="#fff"/><rect x="2216.2" y="181.3" width="18.6" height="14" fill="#fff"/>
<rect x="2190.2" y="203.5" width="18.2" height="13.9" fill="#fff"/><rect x="2216.2" y="203.5" width="18.6" height="13.9" fill="#fff"/></svg>
<span style="position:absolute;left:2292.47px;top:156.60px;font:normal 700 49.14px/1 'Liberation Sans';color:#ffffff;white-space:pre;transform:scaleX(1.0085);transform-origin:0 0;-webkit-text-stroke:2.6px #fff;">FINM</span>
<span style="position:absolute;left:2451.51px;top:156.60px;font:normal 700 49.14px/1 'Liberation Sans';color:#ffffff;white-space:pre;transform:scaleX(0.8629);transform-origin:0 0;-webkit-text-stroke:2.6px #fff;">DELSLAB</span>
<svg style="position:absolute;left:0;top:0" width="2902" height="1762" viewBox="0 0 2902 1762"><circle cx="2431.7" cy="180.2" r="13.4" fill="none" stroke="#fff" stroke-width="9.3"/>
<rect x="2424.1" y="159" width="15.2" height="14" fill="#292929"/>
<rect x="2426.6" y="155" width="9.8" height="27.5" rx="4.9" fill="#fff"/></svg>
<span style="position:absolute;left:2295.00px;top:206.90px;font:normal 400 36.09px/1 'Liberation Sans';color:#ffffff;white-space:pre;transform:scaleX(1.0318);transform-origin:0 0;-webkit-text-stroke:0.6px #fff;">T</span>
<span style="position:absolute;left:2337.03px;top:206.90px;font:normal 400 36.09px/1 'Liberation Sans';color:#ffffff;white-space:pre;transform:scaleX(0.9722);transform-origin:0 0;-webkit-text-stroke:0.6px #fff;">e</span>
<span style="position:absolute;left:2380.65px;top:206.90px;font:normal 400 36.09px/1 'Liberation Sans';color:#ffffff;white-space:pre;transform:scaleX(1.1269);transform-origin:0 0;-webkit-text-stroke:0.6px #fff;">m</span>
<span style="position:absolute;left:2437.04px;top:206.90px;font:normal 400 36.09px/1 'Liberation Sans';color:#ffffff;white-space:pre;transform:scaleX(0.9824);transform-origin:0 0;-webkit-text-stroke:0.6px #fff;">p</span>
<span style="position:absolute;left:2481.80px;top:206.90px;font:normal 400 36.09px/1 'Liberation Sans';color:#ffffff;white-space:pre;transform:scaleX(0.8000);transform-origin:0 0;-webkit-text-stroke:0.6px #fff;">l</span>
<span style="position:absolute;left:2510.99px;top:206.90px;font:normal 400 36.09px/1 'Liberation Sans';color:#ffffff;white-space:pre;transform:scaleX(0.9050);transform-origin:0 0;-webkit-text-stroke:0.6px #fff;">a</span>
<span style="position:absolute;left:2554.60px;top:206.90px;font:normal 400 36.09px/1 'Liberation Sans';color:#ffffff;white-space:pre;transform:scaleX(1.1900);transform-origin:0 0;-webkit-text-stroke:0.6px #fff;">t</span>
<span style="position:absolute;left:2588.39px;top:206.90px;font:normal 400 36.09px/1 'Liberation Sans';color:#ffffff;white-space:pre;transform:scaleX(1.0111);transform-origin:0 0;-webkit-text-stroke:0.6px #fff;">e</span>
<span style="position:absolute;left:2632.71px;top:206.90px;font:normal 400 36.09px/1 'Liberation Sans';color:#ffffff;white-space:pre;transform:scaleX(1.0875);transform-origin:0 0;-webkit-text-stroke:0.6px #fff;">s</span>
<svg style="position:absolute;left:0;top:0" width="2902" height="1762" viewBox="0 0 2902 1762"><path d="M2850.3 253.90 L2857.30 260.90 L2864.3 253.90" fill="none" stroke="#e0e0e0" stroke-width="1.6"/></svg>
<div style="position:absolute;left:11.00px;top:278.00px;width:2850.00px;height:27.00px;background:#0a0a0a;"></div>
<svg style="position:absolute;left:0;top:0" width="2902" height="1762" viewBox="0 0 2902 1762"><path d="M49.8 282.8 L49.8 302 L30.8 302 Z" fill="#5a5a5a"/></svg>
<div style="position:absolute;left:54.00px;top:278.00px;width:29.00px;height:27.00px;background:#5c5c5c;"></div>
<div style="position:absolute;left:82.00px;top:279.00px;width:2.00px;height:26.00px;background:#5e5e5e;"></div>
<div style="position:absolute;left:128.00px;top:279.00px;width:1.00px;height:26.00px;background:#5e5e5e;"></div>
<div style="position:absolute;left:172.00px;top:279.00px;width:1.00px;height:26.00px;background:#5e5e5e;"></div>
<div style="position:absolute;left:217.00px;top:279.00px;width:1.00px;height:26.00px;background:#5e5e5e;"></div>
<div style="position:absolute;left:262.00px;top:279.00px;width:1.00px;height:26.00px;background:#5e5e5e;"></div>
<div style="position:absolute;left:307.00px;top:279.00px;width:1.00px;height:26.00px;background:#5e5e5e;"></div>
<div style="position:absolute;left:352.00px;top:279.00px;width:1.00px;height:26.00px;background:#5e5e5e;"></div>
<div style="position:absolute;left:397.00px;top:279.00px;width:1.00px;height:26.00px;background:#5e5e5e;"></div>
<div style="position:absolute;left:602.00px;top:279.00px;width:2.00px;height:26.00px;background:#5e5e5e;"></div>
<div style="position:absolute;left:809.00px;top:279.00px;width:1.00px;height:26.00px;background:#5e5e5e;"></div>
<div style="position:absolute;left:1015.00px;top:279.00px;width:1.00px;height:26.00px;background:#5e5e5e;"></div>
<div style="position:absolute;left:1221.00px;top:279.00px;width:1.00px;height:26.00px;background:#5e5e5e;"></div>
<div style="position:absolute;left:1427.00px;top:279.00px;width:1.00px;height:26.00px;background:#5e5e5e;"></div>
<div style="position:absolute;left:1633.00px;top:279.00px;width:1.00px;height:26.00px;background:#5e5e5e;"></div>
<div style="position:absolute;left:1839.00px;top:279.00px;width:1.00px;height:26.00px;background:#5e5e5e;"></div>
<div style="position:absolute;left:1894.00px;top:279.00px;width:1.00px;height:26.00px;background:#5e5e5e;"></div>
<div style="position:absolute;left:2056.00px;top:279.00px;width:1.00px;height:26.00px;background:#5e5e5e;"></div>
<div style="position:absolute;left:2218.00px;top:279.00px;width:1.00px;height:26.00px;background:#5e5e5e;"></div>
<div style="position:absolute;left:2380.00px;top:279.00px;width:1.00px;height:26.00px;background:#5e5e5e;"></div>
<div style="position:absolute;left:2542.00px;top:279.00px;width:1.00px;height:26.00px;background:#5e5e5e;"></div>
<div style="position:absolute;left:2704.00px;top:279.00px;width:1.00px;height:26.00px;background:#5e5e5e;"></div>
<div style="position:absolute;left:2847.00px;top:279.00px;width:1.00px;height:26.00px;background:#5e5e5e;"></div>
<span style="position:absolute;left:60.50px;top:282.00px;font:normal 400 22.03px/1 'Liberation Sans';color:#ffffff;white-space:pre;">A</span>
<span style="position:absolute;left:98.00px;top:282.00px;font:normal 400 22.03px/1 'Liberation Sans';color:#e6e6e6;white-space:pre;">B</span>
<span style="position:absolute;left:141.70px;top:282.00px;font:normal 400 22.03px/1 'Liberation Sans';color:#e6e6e6;white-space:pre;">C</span>
<span style="position:absolute;left:186.85px;top:282.00px;font:normal 400 22.03px/1 'Liberation Sans';color:#e6e6e6;white-space:pre;">D</span>
<span style="position:absolute;left:232.25px;top:282.00px;font:normal 400 22.03px/1 'Liberation Sans';color:#e6e6e6;white-space:pre;">E</span>
<span style="position:absolute;left:277.80px;top:282.00px;font:normal 400 22.03px/1 'Liberation Sans';color:#e6e6e6;white-space:pre;">F</span>
<span style="position:absolute;left:321.35px;top:282.00px;font:normal 400 22.03px/1 'Liberation Sans';color:#e6e6e6;white-space:pre;">G</span>
<span style="position:absolute;left:366.75px;top:282.00px;font:normal 400 22.03px/1 'Liberation Sans';color:#e6e6e6;white-space:pre;">H</span>
<span style="position:absolute;left:496.60px;top:282.00px;font:normal 400 22.03px/1 'Liberation Sans';color:#e6e6e6;white-space:pre;">I</span>
<span style="position:absolute;left:701.15px;top:282.00px;font:normal 400 22.03px/1 'Liberation Sans';color:#e6e6e6;white-space:pre;">J</span>
<span style="position:absolute;left:904.30px;top:282.00px;font:normal 400 22.03px/1 'Liberation Sans';color:#e6e6e6;white-space:pre;">K</span>
<span style="position:absolute;left:1111.80px;top:282.00px;font:normal 400 22.03px/1 'Liberation Sans';color:#e6e6e6;white-space:pre;">L</span>
<span style="position:absolute;left:1315.30px;top:282.00px;font:normal 400 22.03px/1 'Liberation Sans';color:#e6e6e6;white-space:pre;">M</span>
<span style="position:absolute;left:1522.35px;top:282.00px;font:normal 400 22.03px/1 'Liberation Sans';color:#e6e6e6;white-space:pre;">N</span>
<span style="position:absolute;left:1727.35px;top:282.00px;font:normal 400 22.03px/1 'Liberation Sans';color:#e6e6e6;white-space:pre;">O</span>
<span style="position:absolute;left:1859.25px;top:282.00px;font:normal 400 22.03px/1 'Liberation Sans';color:#e6e6e6;white-space:pre;">P</span>
<span style="position:absolute;left:1966.30px;top:282.00px;font:normal 400 22.03px/1 'Liberation Sans';color:#e6e6e6;white-space:pre;">Q</span>
<span style="position:absolute;left:2129.40px;top:282.00px;font:normal 400 22.03px/1 'Liberation Sans';color:#e6e6e6;white-space:pre;">R</span>
<span style="position:absolute;left:2291.80px;top:282.00px;font:normal 400 22.03px/1 'Liberation Sans';color:#e6e6e6;white-space:pre;">S</span>
<span style="position:absolute;left:2454.80px;top:282.00px;font:normal 400 22.03px/1 'Liberation Sans';color:#e6e6e6;white-space:pre;">T</span>
<span style="position:absolute;left:2615.50px;top:282.00px;font:normal 400 22.03px/1 'Liberation Sans';color:#e6e6e6;white-space:pre;">U</span>
<span style="position:absolute;left:2768.50px;top:282.00px;font:normal 400 22.03px/1 'Liberation Sans';color:#e6e6e6;white-space:pre;">V</span>
<span style="position:absolute;left:2853.50px;top:282.00px;font:normal 400 22.03px/1 'Liberation Sans';color:#e6e6e6;white-space:pre;clip-path:inset(0 0 0 0);">W</span>
<div style="position:absolute;left:11.00px;top:305.00px;width:42.00px;height:1365.00px;background:#0a0a0a;"></div>
<div style="position:absolute;left:11.00px;top:306.00px;width:41.00px;height:42.00px;background:#5c5c5c;"></div>
<div style="position:absolute;left:11.00px;top:305.00px;width:41.00px;height:1.00px;background:#b0b0b0;"></div>
<span style="position:absolute;left:25.80px;top:324.60px;font:normal 400 22.32px/1 'Liberation Sans';color:#ffffff;white-space:pre;">1</span>
<div style="position:absolute;left:12.00px;top:348.00px;width:41.00px;height:1.00px;background:#646464;"></div>
<span style="position:absolute;left:25.80px;top:364.90px;font:normal 400 22.32px/1 'Liberation Sans';color:#e6e6e6;white-space:pre;">2</span>
<div style="position:absolute;left:12.00px;top:389.00px;width:41.00px;height:1.00px;background:#646464;"></div>
<span style="position:absolute;left:26.30px;top:406.10px;font:normal 400 22.32px/1 'Liberation Sans';color:#e6e6e6;white-space:pre;">3</span>
<div style="position:absolute;left:12.00px;top:430.00px;width:41.00px;height:1.00px;background:#646464;"></div>
<span style="position:absolute;left:26.30px;top:435.00px;font:normal 400 22.32px/1 'Liberation Sans';color:#e6e6e6;white-space:pre;">4</span>
<div style="position:absolute;left:12.00px;top:459.00px;width:41.00px;height:1.00px;background:#646464;"></div>
<span style="position:absolute;left:26.30px;top:477.10px;font:normal 400 22.32px/1 'Liberation Sans';color:#e6e6e6;white-space:pre;">5</span>
<div style="position:absolute;left:12.00px;top:501.00px;width:41.00px;height:1.00px;background:#646464;"></div>
<span style="position:absolute;left:25.80px;top:512.10px;font:normal 400 22.32px/1 'Liberation Sans';color:#e6e6e6;white-space:pre;">6</span>
<div style="position:absolute;left:12.00px;top:536.00px;width:41.00px;height:1.00px;background:#646464;"></div>
<span style="position:absolute;left:25.80px;top:541.20px;font:normal 400 22.32px/1 'Liberation Sans';color:#e6e6e6;white-space:pre;">7</span>
<div style="position:absolute;left:12.00px;top:565.00px;width:41.00px;height:1.00px;background:#646464;"></div>
<div style="position:absolute;left:12.00px;top:571.00px;width:41.00px;height:1.00px;background:#646464;"></div>
<span style="position:absolute;left:25.80px;top:576.20px;font:normal 400 22.32px/1 'Liberation Sans';color:#e6e6e6;white-space:pre;">9</span>
<div style="position:absolute;left:12.00px;top:600.00px;width:41.00px;height:1.00px;background:#646464;"></div>
<span style="position:absolute;left:19.60px;top:605.30px;font:normal 400 22.32px/1 'Liberation Sans';color:#e6e6e6;white-space:pre;">10</span>
<div style="position:absolute;left:12.00px;top:629.00px;width:41.00px;height:1.00px;background:#646464;"></div>
<span style="position:absolute;left:20.43px;top:634.00px;font:normal 400 22.32px/1 'Liberation Sans';color:#e6e6e6;white-space:pre;">11</span>
<div style="position:absolute;left:12.00px;top:658.00px;width:41.00px;height:1.00px;background:#646464;"></div>
<span style="position:absolute;left:19.60px;top:662.80px;font:normal 400 22.32px/1 'Liberation Sans';color:#e6e6e6;white-space:pre;">12</span>
<div style="position:absolute;left:12.00px;top:687.00px;width:41.00px;height:1.00px;background:#646464;"></div>
<span style="position:absolute;left:19.60px;top:691.70px;font:normal 400 22.32px/1 'Liberation Sans';color:#e6e6e6;white-space:pre;">13</span>
<div style="position:absolute;left:12.00px;top:716.00px;width:41.00px;height:1.00px;background:#646464;"></div>
<span style="position:absolute;left:19.60px;top:720.70px;font:normal 400 22.32px/1 'Liberation Sans';color:#e6e6e6;white-space:pre;">14</span>
<div style="position:absolute;left:12.00px;top:745.00px;width:41.00px;height:1.00px;background:#646464;"></div>
<span style="position:absolute;left:19.60px;top:743.70px;font:normal 400 22.32px/1 'Liberation Sans';color:#e6e6e6;white-space:pre;">15</span>
<div style="position:absolute;left:12.00px;top:767.00px;width:41.00px;height:1.00px;background:#646464;"></div>
<span style="position:absolute;left:19.60px;top:785.20px;font:normal 400 22.32px/1 'Liberation Sans';color:#e6e6e6;white-space:pre;">16</span>
<div style="position:absolute;left:12.00px;top:809.00px;width:41.00px;height:1.00px;background:#646464;"></div>
<span style="position:absolute;left:19.60px;top:814.20px;font:normal 400 22.32px/1 'Liberation Sans';color:#e6e6e6;white-space:pre;">17</span>
<div style="position:absolute;left:12.00px;top:838.00px;width:41.00px;height:1.00px;background:#646464;"></div>
<span style="position:absolute;left:19.60px;top:843.20px;font:normal 400 22.32px/1 'Liberation Sans';color:#e6e6e6;white-space:pre;">18</span>
<div style="position:absolute;left:12.00px;top:867.00px;width:41.00px;height:1.00px;background:#646464;"></div>
<span style="position:absolute;left:19.60px;top:872.20px;font:normal 400 22.32px/1 'Liberation Sans';color:#e6e6e6;white-space:pre;">19</span>
<div style="position:absolute;left:12.00px;top:896.00px;width:41.00px;height:1.00px;background:#646464;"></div>
<span style="position:absolute;left:19.60px;top:901.20px;font:normal 400 22.32px/1 'Liberation Sans';color:#e6e6e6;white-space:pre;">20</span>
<div style="position:absolute;left:12.00px;top:925.00px;width:41.00px;height:1.00px;background:#646464;"></div>
<span style="position:absolute;left:19.60px;top:930.20px;font:normal 400 22.32px/1 'Liberation Sans';color:#e6e6e6;white-space:pre;">21</span>
<div style="position:absolute;left:12.00px;top:954.00px;width:41.00px;height:1.00px;background:#646464;"></div>
<span style="position:absolute;left:19.60px;top:959.20px;font:normal 400 22.32px/1 'Liberation Sans';color:#e6e6e6;white-space:pre;">22</span>
<div style="position:absolute;left:12.00px;top:983.00px;width:41.00px;height:1.00px;background:#646464;"></div>
<span style="position:absolute;left:19.60px;top:988.20px;font:normal 400 22.32px/1 'Liberation Sans';color:#e6e6e6;white-space:pre;">23</span>
<div style="position:absolute;left:12.00px;top:1012.00px;width:41.00px;height:1.00px;background:#646464;"></div>
<span style="position:absolute;left:19.60px;top:1017.20px;font:normal 400 22.32px/1 'Liberation Sans';color:#e6e6e6;white-space:pre;">24</span>
<div style="position:absolute;left:12.00px;top:1041.00px;width:41.00px;height:1.00px;background:#646464;"></div>
<span style="position:absolute;left:19.60px;top:1046.20px;font:normal 400 22.32px/1 'Liberation Sans';color:#e6e6e6;white-space:pre;">25</span>
<div style="position:absolute;left:12.00px;top:1070.00px;width:41.00px;height:1.00px;background:#646464;"></div>
<span style="position:absolute;left:19.60px;top:1075.20px;font:normal 400 22.32px/1 'Liberation Sans';color:#e6e6e6;white-space:pre;">26</span>
<div style="position:absolute;left:12.00px;top:1099.00px;width:41.00px;height:1.00px;background:#646464;"></div>
<span style="position:absolute;left:19.60px;top:1104.20px;font:normal 400 22.32px/1 'Liberation Sans';color:#e6e6e6;white-space:pre;">27</span>
<div style="position:absolute;left:12.00px;top:1128.00px;width:41.00px;height:1.00px;background:#646464;"></div>
<span style="position:absolute;left:19.60px;top:1133.20px;font:normal 400 22.32px/1 'Liberation Sans';color:#e6e6e6;white-space:pre;">28</span>
<div style="position:absolute;left:12.00px;top:1157.00px;width:41.00px;height:1.00px;background:#646464;"></div>
<span style="position:absolute;left:19.60px;top:1162.20px;font:normal 400 22.32px/1 'Liberation Sans';color:#e6e6e6;white-space:pre;">29</span>
<div style="position:absolute;left:12.00px;top:1186.00px;width:41.00px;height:1.00px;background:#646464;"></div>
<span style="position:absolute;left:20.10px;top:1191.20px;font:normal 400 22.32px/1 'Liberation Sans';color:#e6e6e6;white-space:pre;">30</span>
<div style="position:absolute;left:12.00px;top:1215.00px;width:41.00px;height:1.00px;background:#646464;"></div>
<span style="position:absolute;left:20.10px;top:1220.20px;font:normal 400 22.32px/1 'Liberation Sans';color:#e6e6e6;white-space:pre;">31</span>
<div style="position:absolute;left:12.00px;top:1244.00px;width:41.00px;height:1.00px;background:#646464;"></div>
<span style="position:absolute;left:20.10px;top:1249.20px;font:normal 400 22.32px/1 'Liberation Sans';color:#e6e6e6;white-space:pre;">32</span>
<div style="position:absolute;left:12.00px;top:1273.00px;width:41.00px;height:1.00px;background:#646464;"></div>
<span style="position:absolute;left:20.10px;top:1278.20px;font:normal 400 22.32px/1 'Liberation Sans';color:#e6e6e6;white-space:pre;">33</span>
<div style="position:absolute;left:12.00px;top:1302.00px;width:41.00px;height:1.00px;background:#646464;"></div>
<span style="position:absolute;left:20.10px;top:1307.20px;font:normal 400 22.32px/1 'Liberation Sans';color:#e6e6e6;white-space:pre;">34</span>
<div style="position:absolute;left:12.00px;top:1331.00px;width:41.00px;height:1.00px;background:#646464;"></div>
<span style="position:absolute;left:20.10px;top:1336.20px;font:normal 400 22.32px/1 'Liberation Sans';color:#e6e6e6;white-space:pre;">35</span>
<div style="position:absolute;left:12.00px;top:1360.00px;width:41.00px;height:1.00px;background:#646464;"></div>
<span style="position:absolute;left:20.10px;top:1365.20px;font:normal 400 22.32px/1 'Liberation Sans';color:#e6e6e6;white-space:pre;">36</span>
<div style="position:absolute;left:12.00px;top:1389.00px;width:41.00px;height:1.00px;background:#646464;"></div>
<span style="position:absolute;left:20.10px;top:1394.20px;font:normal 400 22.32px/1 'Liberation Sans';color:#e6e6e6;white-space:pre;">37</span>
<div style="position:absolute;left:12.00px;top:1418.00px;width:41.00px;height:1.00px;background:#646464;"></div>
<span style="position:absolute;left:20.10px;top:1423.20px;font:normal 400 22.32px/1 'Liberation Sans';color:#e6e6e6;white-space:pre;">38</span>
<div style="position:absolute;left:12.00px;top:1447.00px;width:41.00px;height:1.00px;background:#646464;"></div>
<span style="position:absolute;left:20.10px;top:1452.20px;font:normal 400 22.32px/1 'Liberation Sans';color:#e6e6e6;white-space:pre;">39</span>
<div style="position:absolute;left:12.00px;top:1476.00px;width:41.00px;height:1.00px;background:#646464;"></div>
<span style="position:absolute;left:20.10px;top:1481.20px;font:normal 400 22.32px/1 'Liberation Sans';color:#e6e6e6;white-space:pre;">40</span>
<div style="position:absolute;left:12.00px;top:1505.00px;width:41.00px;height:1.00px;background:#646464;"></div>
<span style="position:absolute;left:20.10px;top:1510.20px;font:normal 400 22.32px/1 'Liberation Sans';color:#e6e6e6;white-space:pre;">41</span>
<div style="position:absolute;left:12.00px;top:1534.00px;width:41.00px;height:1.00px;background:#646464;"></div>
<span style="position:absolute;left:20.10px;top:1552.60px;font:normal 400 22.32px/1 'Liberation Sans';color:#e6e6e6;white-space:pre;">42</span>
<div style="position:absolute;left:12.00px;top:1576.00px;width:41.00px;height:1.00px;background:#646464;"></div>
<span style="position:absolute;left:20.10px;top:1581.60px;font:normal 400 22.32px/1 'Liberation Sans';color:#e6e6e6;white-space:pre;">43</span>
<div style="position:absolute;left:12.00px;top:1605.00px;width:41.00px;height:1.00px;background:#646464;"></div>
<span style="position:absolute;left:20.10px;top:1611.00px;font:normal 400 22.32px/1 'Liberation Sans';color:#e6e6e6;white-space:pre;">44</span>
<div style="position:absolute;left:12.00px;top:1635.00px;width:41.00px;height:1.00px;background:#646464;"></div>
<span style="position:absolute;left:20.10px;top:1640.20px;font:normal 400 22.32px/1 'Liberation Sans';color:#e6e6e6;white-space:pre;">45</span>
<div style="position:absolute;left:12.00px;top:1664.00px;width:41.00px;height:1.00px;background:#646464;"></div>
<div style="position:absolute;left:53.00px;top:305.00px;width:2807.00px;height:1365.00px;background:#ffffff;"></div>
<div style="position:absolute;left:53.00px;top:305.00px;width:2807.00px;height:1.00px;background:#9a9a9a;"></div>
<div style="position:absolute;left:53.00px;top:305.00px;width:1.00px;height:1365.00px;background:#6a6a6a;"></div>
<div style="position:absolute;left:53.00px;top:304.00px;width:31.00px;height:2.00px;background:#1e7145;"></div>
<div style="position:absolute;left:53.00px;top:304.00px;width:1.00px;height:45.00px;background:#1e7145;"></div>
<div style="position:absolute;left:53.00px;top:459.00px;width:2807.00px;height:1.00px;background:#9a9a9a;"></div>
<span style="position:absolute;left:89.80px;top:308.20px;font:normal 700 40.00px/1 'Liberation Sans';color:#222222;white-space:pre;transform:scaleX(1.0254);transform-origin:0 0;">Top Revenue</span>
<span style="position:absolute;left:89.00px;top:353.00px;font:normal 700 34.86px/1 'Liberation Sans';color:#000000;white-space:pre;">ABC Company Inc.</span>
<span style="position:absolute;left:87.70px;top:399.20px;font:normal 700 21.71px/1 'Liberation Sans';color:#2f7cf0;white-space:pre;transform:scaleX(1.0517);transform-origin:0 0;">Go to Table of Contents</span>
<div style="position:absolute;left:88.00px;top:420.00px;width:257.00px;height:1.00px;background:#2f7cf0;"></div>
<div style="position:absolute;left:83.00px;top:460.00px;width:2764.00px;height:41.00px;background:#4b52d0;"></div>
<div style="position:absolute;left:1634.00px;top:501.00px;width:1213.00px;height:1.00px;background:#4b52d0;"></div>
<span style="position:absolute;left:952.60px;top:463.60px;font:normal 700 34.57px/1 'Liberation Sans';color:#ffffff;white-space:pre;transform:scaleX(1.0669);transform-origin:0 0;">Top 5 Revenue Streams ($'000) - 5 years to December 2030</span>
<div style="position:absolute;left:83.00px;top:768.00px;width:2764.00px;height:42.00px;background:#4b52d0;"></div>
<span style="position:absolute;left:952.40px;top:771.60px;font:normal 700 34.57px/1 'Liberation Sans';color:#ffffff;white-space:pre;transform:scaleX(1.0671);transform-origin:0 0;">Top 5 Revenue Streams ($'000) - 5 years to December 2030</span>
<div style="position:absolute;left:83.00px;top:1535.00px;width:1756.00px;height:42.00px;background:#4b52d0;"></div>
<div style="position:absolute;left:1839.00px;top:1535.00px;width:1008.00px;height:42.00px;background:#4b52d0;"></div>
<div style="position:absolute;left:1839.00px;top:1535.00px;width:1.00px;height:42.00px;background:#ffffff;"></div>
<span style="position:absolute;left:699.93px;top:1540.00px;font:normal 700 34.86px/1 'Liberation Sans';color:#ffffff;white-space:pre;transform:scaleX(1.0846);transform-origin:0 0;">Revenue Depth ($'000) - 2026</span>
<span style="position:absolute;left:2057.02px;top:1540.00px;font:normal 700 34.86px/1 'Liberation Sans';color:#ffffff;white-space:pre;transform:scaleX(1.0896);transform-origin:0 0;">Monthly Run-Rate ($'000) - 2026</span>
<div style="position:absolute;left:83.00px;top:537.00px;width:1550.00px;height:28.00px;background:#6f77e8;"></div>
<div style="position:absolute;left:1894.00px;top:537.00px;width:811.00px;height:28.00px;background:#6f77e8;"></div>
<div style="position:absolute;left:602.00px;top:537.00px;width:2.00px;height:28.00px;background:#ffffff;"></div>
<div style="position:absolute;left:809.00px;top:537.00px;width:1.00px;height:28.00px;background:#ffffff;"></div>
<div style="position:absolute;left:1015.00px;top:537.00px;width:1.00px;height:28.00px;background:#ffffff;"></div>
<div style="position:absolute;left:1221.00px;top:537.00px;width:1.00px;height:28.00px;background:#ffffff;"></div>
<div style="position:absolute;left:1427.00px;top:537.00px;width:1.00px;height:28.00px;background:#ffffff;"></div>
<div style="position:absolute;left:2056.00px;top:537.00px;width:1.00px;height:28.00px;background:#ffffff;"></div>
<div style="position:absolute;left:2218.00px;top:537.00px;width:1.00px;height:28.00px;background:#ffffff;"></div>
<div style="position:absolute;left:2380.00px;top:537.00px;width:1.00px;height:28.00px;background:#ffffff;"></div>
<div style="position:absolute;left:2542.00px;top:537.00px;width:1.00px;height:28.00px;background:#ffffff;"></div>
<span style="position:absolute;left:97.70px;top:541.20px;font:normal 700 22.29px/1 'Liberation Sans';color:#ffffff;white-space:pre;transform:scaleX(1.0361);transform-origin:0 0;">Year Ending</span>
<span style="position:absolute;left:680.15px;top:541.20px;font:normal 700 22.29px/1 'Liberation Sans';color:#ffffff;white-space:pre;transform:scaleX(1.1028);transform-origin:0 0;">2026</span>
<span style="position:absolute;left:1949.00px;top:541.20px;font:normal 700 22.29px/1 'Liberation Sans';color:#ffffff;white-space:pre;transform:scaleX(1.1109);transform-origin:0 0;">2026</span>
<span style="position:absolute;left:886.30px;top:541.20px;font:normal 700 22.29px/1 'Liberation Sans';color:#ffffff;white-space:pre;transform:scaleX(1.1028);transform-origin:0 0;">2027</span>
<span style="position:absolute;left:2111.10px;top:541.20px;font:normal 700 22.29px/1 'Liberation Sans';color:#ffffff;white-space:pre;transform:scaleX(1.1109);transform-origin:0 0;">2027</span>
<span style="position:absolute;left:1092.30px;top:541.20px;font:normal 700 22.29px/1 'Liberation Sans';color:#ffffff;white-space:pre;transform:scaleX(1.1028);transform-origin:0 0;">2028</span>
<span style="position:absolute;left:2273.00px;top:541.20px;font:normal 700 22.29px/1 'Liberation Sans';color:#ffffff;white-space:pre;transform:scaleX(1.1109);transform-origin:0 0;">2028</span>
<span style="position:absolute;left:1298.30px;top:541.20px;font:normal 700 22.29px/1 'Liberation Sans';color:#ffffff;white-space:pre;transform:scaleX(1.1028);transform-origin:0 0;">2029</span>
<span style="position:absolute;left:2435.00px;top:541.20px;font:normal 700 22.29px/1 'Liberation Sans';color:#ffffff;white-space:pre;transform:scaleX(1.1109);transform-origin:0 0;">2029</span>
<span style="position:absolute;left:1504.35px;top:541.20px;font:normal 700 22.29px/1 'Liberation Sans';color:#ffffff;white-space:pre;transform:scaleX(1.1028);transform-origin:0 0;">2030</span>
<span style="position:absolute;left:2597.20px;top:541.20px;font:normal 700 22.29px/1 'Liberation Sans';color:#ffffff;white-space:pre;transform:scaleX(1.1109);transform-origin:0 0;">2030</span>
<span style="position:absolute;left:84.28px;top:575.60px;font:normal 400 21.88px/1 'Liberation Sans';color:#000000;white-space:pre;transform:scaleX(1.0115);transform-origin:0 0;">Implementation Projects</span>
<span style="position:absolute;left:85.30px;top:604.50px;font:normal 400 21.88px/1 'Liberation Sans';color:#000000;white-space:pre;transform:scaleX(0.9966);transform-origin:0 0;">Strategy &amp; Discovery</span>
<span style="position:absolute;left:85.31px;top:633.30px;font:normal 400 21.88px/1 'Liberation Sans';color:#000000;white-space:pre;transform:scaleX(0.9886);transform-origin:0 0;">Ongoing Retainers</span>
<span style="position:absolute;left:86.30px;top:662.10px;font:normal 400 21.88px/1 'Liberation Sans';color:#000000;white-space:pre;transform:scaleX(0.9571);transform-origin:0 0;">-</span>
<span style="position:absolute;left:85.31px;top:691.40px;font:normal 400 21.88px/1 'Liberation Sans';color:#000000;white-space:pre;transform:scaleX(0.9926);transform-origin:0 0;">Other Revenue</span>
<span style="position:absolute;left:743.18px;top:575.60px;font:normal 400 21.57px/1 'Liberation Sans';color:#000000;white-space:pre;transform:scaleX(1.0160);transform-origin:0 0;">1,152</span>
<span style="position:absolute;left:760.44px;top:604.50px;font:normal 400 21.57px/1 'Liberation Sans';color:#000000;white-space:pre;transform:scaleX(1.0160);transform-origin:0 0;">383</span>
<span style="position:absolute;left:773.64px;top:633.30px;font:normal 400 21.57px/1 'Liberation Sans';color:#000000;white-space:pre;transform:scaleX(1.0160);transform-origin:0 0;">29</span>
<span style="position:absolute;left:766.00px;top:662.10px;font:normal 400 21.57px/1 'Liberation Sans';color:#000000;white-space:pre;transform:scaleX(1.1000);transform-origin:0 0;">-</span>
<span style="position:absolute;left:766.00px;top:691.40px;font:normal 400 21.57px/1 'Liberation Sans';color:#000000;white-space:pre;transform:scaleX(1.1000);transform-origin:0 0;">-</span>
<span style="position:absolute;left:949.18px;top:575.60px;font:normal 400 21.57px/1 'Liberation Sans';color:#000000;white-space:pre;transform:scaleX(1.0160);transform-origin:0 0;">3,157</span>
<span style="position:absolute;left:967.46px;top:604.50px;font:normal 400 21.57px/1 'Liberation Sans';color:#000000;white-space:pre;transform:scaleX(1.0160);transform-origin:0 0;">912</span>
<span style="position:absolute;left:978.62px;top:633.30px;font:normal 400 21.57px/1 'Liberation Sans';color:#000000;white-space:pre;transform:scaleX(1.0160);transform-origin:0 0;">84</span>
<span style="position:absolute;left:972.00px;top:662.10px;font:normal 400 21.57px/1 'Liberation Sans';color:#000000;white-space:pre;transform:scaleX(1.1000);transform-origin:0 0;">-</span>
<span style="position:absolute;left:972.00px;top:691.40px;font:normal 400 21.57px/1 'Liberation Sans';color:#000000;white-space:pre;transform:scaleX(1.1000);transform-origin:0 0;">-</span>
<span style="position:absolute;left:1154.17px;top:575.60px;font:normal 400 21.57px/1 'Liberation Sans';color:#000000;white-space:pre;transform:scaleX(1.0160);transform-origin:0 0;">6,486</span>
<span style="position:absolute;left:1155.18px;top:604.50px;font:normal 400 21.57px/1 'Liberation Sans';color:#000000;white-space:pre;transform:scaleX(1.0160);transform-origin:0 0;">1,629</span>
<span style="position:absolute;left:1172.44px;top:633.30px;font:normal 400 21.57px/1 'Liberation Sans';color:#000000;white-space:pre;transform:scaleX(1.0160);transform-origin:0 0;">180</span>
<span style="position:absolute;left:1178.00px;top:662.10px;font:normal 400 21.57px/1 'Liberation Sans';color:#000000;white-space:pre;transform:scaleX(1.1000);transform-origin:0 0;">-</span>
<span style="position:absolute;left:1178.00px;top:691.40px;font:normal 400 21.57px/1 'Liberation Sans';color:#000000;white-space:pre;transform:scaleX(1.1000);transform-origin:0 0;">-</span>
<span style="position:absolute;left:1347.98px;top:575.60px;font:normal 400 21.57px/1 'Liberation Sans';color:#000000;white-space:pre;transform:scaleX(1.0160);transform-origin:0 0;">10,533</span>
<span style="position:absolute;left:1360.17px;top:604.50px;font:normal 400 21.57px/1 'Liberation Sans';color:#000000;white-space:pre;transform:scaleX(1.0160);transform-origin:0 0;">2,468</span>
<span style="position:absolute;left:1379.46px;top:633.30px;font:normal 400 21.57px/1 'Liberation Sans';color:#000000;white-space:pre;transform:scaleX(1.0160);transform-origin:0 0;">301</span>
<span style="position:absolute;left:1384.00px;top:662.10px;font:normal 400 21.57px/1 'Liberation Sans';color:#000000;white-space:pre;transform:scaleX(1.1000);transform-origin:0 0;">-</span>
<span style="position:absolute;left:1384.00px;top:691.40px;font:normal 400 21.57px/1 'Liberation Sans';color:#000000;white-space:pre;transform:scaleX(1.1000);transform-origin:0 0;">-</span>
<span style="position:absolute;left:1555.10px;top:575.60px;font:normal 400 21.57px/1 'Liberation Sans';color:#000000;white-space:pre;transform:scaleX(1.0160);transform-origin:0 0;">15,609</span>
<span style="position:absolute;left:1566.27px;top:604.50px;font:normal 400 21.57px/1 'Liberation Sans';color:#000000;white-space:pre;transform:scaleX(1.0160);transform-origin:0 0;">3,375</span>
<span style="position:absolute;left:1585.56px;top:633.30px;font:normal 400 21.57px/1 'Liberation Sans';color:#000000;white-space:pre;transform:scaleX(1.0160);transform-origin:0 0;">452</span>
<span style="position:absolute;left:1590.10px;top:662.10px;font:normal 400 21.57px/1 'Liberation Sans';color:#000000;white-space:pre;transform:scaleX(1.1000);transform-origin:0 0;">-</span>
<span style="position:absolute;left:1590.10px;top:691.40px;font:normal 400 21.57px/1 'Liberation Sans';color:#000000;white-space:pre;transform:scaleX(1.1000);transform-origin:0 0;">-</span>
<div style="position:absolute;left:82.00px;top:716.00px;width:1551.00px;height:29.00px;background:#4bb1e6;"></div>
<div style="position:absolute;left:1894.00px;top:716.00px;width:811.00px;height:29.00px;background:#4bb1e6;"></div>
<span style="position:absolute;left:99.00px;top:718.90px;font:normal 700 25.00px/1 'Liberation Sans';color:#ffffff;white-space:pre;transform:scaleX(1.0478);transform-origin:0 0;">Total Revenue</span>
<span style="position:absolute;left:731.83px;top:721.70px;font:normal 700 21.29px/1 'Liberation Sans';color:#ffffff;white-space:pre;transform:scaleX(1.1720);transform-origin:0 0;">1,563</span>
<span style="position:absolute;left:937.83px;top:721.70px;font:normal 700 21.29px/1 'Liberation Sans';color:#ffffff;white-space:pre;transform:scaleX(1.1720);transform-origin:0 0;">4,153</span>
<span style="position:absolute;left:1143.83px;top:721.70px;font:normal 700 21.29px/1 'Liberation Sans';color:#ffffff;white-space:pre;transform:scaleX(1.1720);transform-origin:0 0;">8,295</span>
<span style="position:absolute;left:1337.14px;top:721.70px;font:normal 700 21.29px/1 'Liberation Sans';color:#ffffff;white-space:pre;transform:scaleX(1.1720);transform-origin:0 0;">13,302</span>
<span style="position:absolute;left:1542.07px;top:721.70px;font:normal 700 21.29px/1 'Liberation Sans';color:#ffffff;white-space:pre;transform:scaleX(1.1720);transform-origin:0 0;">19,436</span>
<span style="position:absolute;left:1977.39px;top:575.40px;font:italic 400 21.71px/1 'Liberation Sans';color:#000000;white-space:pre;transform:scaleX(1.0567);transform-origin:0 0;">73.7%</span>
<span style="position:absolute;left:1977.39px;top:604.30px;font:italic 400 21.71px/1 'Liberation Sans';color:#000000;white-space:pre;transform:scaleX(1.0567);transform-origin:0 0;">24.5%</span>
<span style="position:absolute;left:1990.14px;top:633.10px;font:italic 400 21.71px/1 'Liberation Sans';color:#000000;white-space:pre;transform:scaleX(1.0567);transform-origin:0 0;">1.8%</span>
<span style="position:absolute;left:2033.90px;top:662.10px;font:italic 400 21.71px/1 'Liberation Sans';color:#000000;white-space:pre;transform:scaleX(1.1000);transform-origin:0 0;">-</span>
<span style="position:absolute;left:2033.90px;top:691.40px;font:italic 400 21.71px/1 'Liberation Sans';color:#000000;white-space:pre;transform:scaleX(1.1000);transform-origin:0 0;">-</span>
<span style="position:absolute;left:1982.30px;top:720.80px;font:italic 700 21.71px/1 'Liberation Sans';color:#ffffff;white-space:pre;transform:scaleX(1.2027);transform-origin:0 0;">100%</span>
<span style="position:absolute;left:2139.39px;top:575.40px;font:italic 400 21.71px/1 'Liberation Sans';color:#000000;white-space:pre;transform:scaleX(1.0567);transform-origin:0 0;">76.0%</span>
<span style="position:absolute;left:2139.39px;top:604.30px;font:italic 400 21.71px/1 'Liberation Sans';color:#000000;white-space:pre;transform:scaleX(1.0567);transform-origin:0 0;">22.0%</span>
<span style="position:absolute;left:2152.14px;top:633.10px;font:italic 400 21.71px/1 'Liberation Sans';color:#000000;white-space:pre;transform:scaleX(1.0567);transform-origin:0 0;">2.0%</span>
<span style="position:absolute;left:2195.90px;top:662.10px;font:italic 400 21.71px/1 'Liberation Sans';color:#000000;white-space:pre;transform:scaleX(1.1000);transform-origin:0 0;">-</span>
<span style="position:absolute;left:2195.90px;top:691.40px;font:italic 400 21.71px/1 'Liberation Sans';color:#000000;white-space:pre;transform:scaleX(1.1000);transform-origin:0 0;">-</span>
<span style="position:absolute;left:2144.30px;top:720.80px;font:italic 700 21.71px/1 'Liberation Sans';color:#ffffff;white-space:pre;transform:scaleX(1.2027);transform-origin:0 0;">100%</span>
<span style="position:absolute;left:2301.19px;top:575.40px;font:italic 400 21.71px/1 'Liberation Sans';color:#000000;white-space:pre;transform:scaleX(1.0567);transform-origin:0 0;">78.2%</span>
<span style="position:absolute;left:2301.19px;top:604.30px;font:italic 400 21.71px/1 'Liberation Sans';color:#000000;white-space:pre;transform:scaleX(1.0567);transform-origin:0 0;">19.6%</span>
<span style="position:absolute;left:2313.94px;top:633.10px;font:italic 400 21.71px/1 'Liberation Sans';color:#000000;white-space:pre;transform:scaleX(1.0567);transform-origin:0 0;">2.2%</span>
<span style="position:absolute;left:2357.70px;top:662.10px;font:italic 400 21.71px/1 'Liberation Sans';color:#000000;white-space:pre;transform:scaleX(1.1000);transform-origin:0 0;">-</span>
<span style="position:absolute;left:2357.70px;top:691.40px;font:italic 400 21.71px/1 'Liberation Sans';color:#000000;white-space:pre;transform:scaleX(1.1000);transform-origin:0 0;">-</span>
<span style="position:absolute;left:2306.10px;top:720.80px;font:italic 700 21.71px/1 'Liberation Sans';color:#ffffff;white-space:pre;transform:scaleX(1.2027);transform-origin:0 0;">100%</span>
<span style="position:absolute;left:2463.39px;top:575.40px;font:italic 400 21.71px/1 'Liberation Sans';color:#000000;white-space:pre;transform:scaleX(1.0567);transform-origin:0 0;">79.2%</span>
<span style="position:absolute;left:2463.39px;top:604.30px;font:italic 400 21.71px/1 'Liberation Sans';color:#000000;white-space:pre;transform:scaleX(1.0567);transform-origin:0 0;">18.6%</span>
<span style="position:absolute;left:2476.14px;top:633.10px;font:italic 400 21.71px/1 'Liberation Sans';color:#000000;white-space:pre;transform:scaleX(1.0567);transform-origin:0 0;">2.3%</span>
<span style="position:absolute;left:2519.90px;top:662.10px;font:italic 400 21.71px/1 'Liberation Sans';color:#000000;white-space:pre;transform:scaleX(1.1000);transform-origin:0 0;">-</span>
<span style="position:absolute;left:2519.90px;top:691.40px;font:italic 400 21.71px/1 'Liberation Sans';color:#000000;white-space:pre;transform:scaleX(1.1000);transform-origin:0 0;">-</span>
<span style="position:absolute;left:2468.30px;top:720.80px;font:italic 700 21.71px/1 'Liberation Sans';color:#ffffff;white-space:pre;transform:scaleX(1.2027);transform-origin:0 0;">100%</span>
<span style="position:absolute;left:2625.59px;top:575.40px;font:italic 400 21.71px/1 'Liberation Sans';color:#000000;white-space:pre;transform:scaleX(1.0567);transform-origin:0 0;">80.3%</span>
<span style="position:absolute;left:2625.59px;top:604.30px;font:italic 400 21.71px/1 'Liberation Sans';color:#000000;white-space:pre;transform:scaleX(1.0567);transform-origin:0 0;">17.4%</span>
<span style="position:absolute;left:2638.34px;top:633.10px;font:italic 400 21.71px/1 'Liberation Sans';color:#000000;white-space:pre;transform:scaleX(1.0567);transform-origin:0 0;">2.3%</span>
<span style="position:absolute;left:2682.10px;top:662.10px;font:italic 400 21.71px/1 'Liberation Sans';color:#000000;white-space:pre;transform:scaleX(1.1000);transform-origin:0 0;">-</span>
<span style="position:absolute;left:2682.10px;top:691.40px;font:italic 400 21.71px/1 'Liberation Sans';color:#000000;white-space:pre;transform:scaleX(1.1000);transform-origin:0 0;">-</span>
<span style="position:absolute;left:2630.50px;top:720.80px;font:italic 700 21.71px/1 'Liberation Sans';color:#ffffff;white-space:pre;transform:scaleX(1.2027);transform-origin:0 0;">100%</span>
<svg style="position:absolute;left:0;top:0" width="2902" height="1762" viewBox="0 0 2902 1762"><path d="M176 1489.5 L1633 1489.5 M176 1425.5 L1633 1425.5 M176 1361.5 L1633 1361.5 M176 1298.5 L1633 1298.5 M176 1234.5 L1633 1234.5 M176 1170.5 L1633 1170.5 M176 1106.5 L1633 1106.5 M176 1042.5 L1633 1042.5 M176 979.5 L1633 979.5 M176 915.5 L1633 915.5 M176 851.5 L1633 851.5 " stroke="#4d6494" stroke-width="1" fill="none"/></svg>
<span style="position:absolute;left:116.02px;top:1479.70px;font:normal 700 21.43px/1 'Liberation Sans';color:#000;white-space:pre;transform:scaleX(1.2417);transform-origin:0 0;">0%</span>
<span style="position:absolute;left:101.24px;top:1415.90px;font:normal 700 21.43px/1 'Liberation Sans';color:#000;white-space:pre;transform:scaleX(1.2417);transform-origin:0 0;">10%</span>
<span style="position:absolute;left:101.24px;top:1352.10px;font:normal 700 21.43px/1 'Liberation Sans';color:#000;white-space:pre;transform:scaleX(1.2417);transform-origin:0 0;">20%</span>
<span style="position:absolute;left:101.24px;top:1288.30px;font:normal 700 21.43px/1 'Liberation Sans';color:#000;white-space:pre;transform:scaleX(1.2417);transform-origin:0 0;">30%</span>
<span style="position:absolute;left:101.24px;top:1224.50px;font:normal 700 21.43px/1 'Liberation Sans';color:#000;white-space:pre;transform:scaleX(1.2417);transform-origin:0 0;">40%</span>
<span style="position:absolute;left:101.24px;top:1160.70px;font:normal 700 21.43px/1 'Liberation Sans';color:#000;white-space:pre;transform:scaleX(1.2417);transform-origin:0 0;">50%</span>
<span style="position:absolute;left:101.24px;top:1096.90px;font:normal 700 21.43px/1 'Liberation Sans';color:#000;white-space:pre;transform:scaleX(1.2417);transform-origin:0 0;">60%</span>
<span style="position:absolute;left:101.24px;top:1033.10px;font:normal 700 21.43px/1 'Liberation Sans';color:#000;white-space:pre;transform:scaleX(1.2417);transform-origin:0 0;">70%</span>
<span style="position:absolute;left:101.24px;top:969.30px;font:normal 700 21.43px/1 'Liberation Sans';color:#000;white-space:pre;transform:scaleX(1.2417);transform-origin:0 0;">80%</span>
<span style="position:absolute;left:101.24px;top:905.50px;font:normal 700 21.43px/1 'Liberation Sans';color:#000;white-space:pre;transform:scaleX(1.2417);transform-origin:0 0;">90%</span>
<span style="position:absolute;left:86.46px;top:841.70px;font:normal 700 21.43px/1 'Liberation Sans';color:#000;white-space:pre;transform:scaleX(1.2417);transform-origin:0 0;">100%</span>
<svg style="position:absolute;left:0;top:0" width="2902" height="1762" viewBox="0 0 2902 1762"><rect x="225.20" y="1019.33" width="194.4" height="470.67" fill="#4bb3e8"/><rect x="225.20" y="862.85" width="194.4" height="156.48" fill="#4b52d0"/><rect x="225.20" y="851.00" width="194.4" height="11.85" fill="#f07b70"/></svg>
<span style="position:absolute;left:295.10px;top:1508.40px;font:normal 700 20.43px/1 'Liberation Sans';color:#000;white-space:pre;transform:scaleX(1.2209);transform-origin:0 0;">2026</span>
<svg style="position:absolute;left:0;top:0" width="2902" height="1762" viewBox="0 0 2902 1762"><rect x="516.40" y="1004.25" width="194.4" height="485.75" fill="#4bb3e8"/><rect x="516.40" y="863.92" width="194.4" height="140.32" fill="#4b52d0"/><rect x="516.40" y="851.00" width="194.4" height="12.92" fill="#f07b70"/></svg>
<span style="position:absolute;left:586.30px;top:1508.40px;font:normal 700 20.43px/1 'Liberation Sans';color:#000;white-space:pre;transform:scaleX(1.2209);transform-origin:0 0;">2027</span>
<svg style="position:absolute;left:0;top:0" width="2902" height="1762" viewBox="0 0 2902 1762"><rect x="807.60" y="990.36" width="194.4" height="499.64" fill="#4bb3e8"/><rect x="807.60" y="864.87" width="194.4" height="125.49" fill="#4b52d0"/><rect x="807.60" y="851.00" width="194.4" height="13.87" fill="#f07b70"/></svg>
<span style="position:absolute;left:877.50px;top:1508.40px;font:normal 700 20.43px/1 'Liberation Sans';color:#000;white-space:pre;transform:scaleX(1.2209);transform-origin:0 0;">2028</span>
<svg style="position:absolute;left:0;top:0" width="2902" height="1762" viewBox="0 0 2902 1762"><rect x="1098.80" y="984.02" width="194.4" height="505.98" fill="#4bb3e8"/><rect x="1098.80" y="865.46" width="194.4" height="118.56" fill="#4b52d0"/><rect x="1098.80" y="851.00" width="194.4" height="14.46" fill="#f07b70"/></svg>
<span style="position:absolute;left:1168.70px;top:1508.40px;font:normal 700 20.43px/1 'Liberation Sans';color:#000;white-space:pre;transform:scaleX(1.2209);transform-origin:0 0;">2029</span>
<svg style="position:absolute;left:0;top:0" width="2902" height="1762" viewBox="0 0 2902 1762"><rect x="1390.00" y="976.82" width="194.4" height="513.18" fill="#4bb3e8"/><rect x="1390.00" y="865.86" width="194.4" height="110.96" fill="#4b52d0"/><rect x="1390.00" y="851.00" width="194.4" height="14.86" fill="#f07b70"/></svg>
<span style="position:absolute;left:1459.90px;top:1508.40px;font:normal 700 20.43px/1 'Liberation Sans';color:#000;white-space:pre;transform:scaleX(1.2209);transform-origin:0 0;">2030</span>
<div style="position:absolute;left:289.00px;top:924.00px;width:67.00px;height:35.00px;background:#a9abee;"></div>
<span style="position:absolute;left:303.35px;top:931.75px;font:normal 700 20.86px/1 'Liberation Sans';color:#000;white-space:pre;transform:scaleX(1.2300);transform-origin:0 0;">383</span>
<div style="position:absolute;left:282.00px;top:1237.00px;width:81.00px;height:35.00px;background:#dde7f3;"></div>
<span style="position:absolute;left:290.57px;top:1244.70px;font:normal 700 20.86px/1 'Liberation Sans';color:#000;white-space:pre;transform:scaleX(1.2300);transform-origin:0 0;">1,152</span>
<div style="position:absolute;left:297.00px;top:840.00px;width:51.00px;height:36.00px;background:#f8c6a6;"></div>
<span style="position:absolute;left:310.84px;top:848.20px;font:normal 700 20.29px/1 'Liberation Sans';color:#000;white-space:pre;transform:scaleX(1.2580);transform-origin:0 0;">29</span>
<div style="position:absolute;left:306.00px;top:834.00px;width:32.00px;height:36.00px;background:#e3efdb;"></div>
<span style="position:absolute;left:315.53px;top:842.10px;font:normal 700 20.86px/1 'Liberation Sans';color:#000;white-space:pre;transform:scaleX(1.2300);transform-origin:0 0;">0</span>
<div style="position:absolute;left:581.00px;top:917.00px;width:66.00px;height:36.00px;background:#a9abee;"></div>
<span style="position:absolute;left:594.55px;top:925.15px;font:normal 700 20.86px/1 'Liberation Sans';color:#000;white-space:pre;transform:scaleX(1.2300);transform-origin:0 0;">912</span>
<div style="position:absolute;left:573.00px;top:1229.00px;width:81.00px;height:36.00px;background:#dde7f3;"></div>
<span style="position:absolute;left:582.23px;top:1237.10px;font:normal 700 20.86px/1 'Liberation Sans';color:#000;white-space:pre;transform:scaleX(1.2300);transform-origin:0 0;">3,157</span>
<div style="position:absolute;left:588.00px;top:841.00px;width:52.00px;height:35.00px;background:#f8c6a6;"></div>
<span style="position:absolute;left:601.71px;top:848.70px;font:normal 700 20.29px/1 'Liberation Sans';color:#000;white-space:pre;transform:scaleX(1.2580);transform-origin:0 0;">84</span>
<div style="position:absolute;left:598.00px;top:834.00px;width:32.00px;height:36.00px;background:#e3efdb;"></div>
<span style="position:absolute;left:606.88px;top:842.10px;font:normal 700 20.86px/1 'Liberation Sans';color:#000;white-space:pre;transform:scaleX(1.2300);transform-origin:0 0;">0</span>
<div style="position:absolute;left:861.00px;top:911.00px;width:88.00px;height:35.00px;background:#a9abee;"></div>
<span style="position:absolute;left:875.37px;top:918.60px;font:normal 700 20.86px/1 'Liberation Sans';color:#000;white-space:pre;transform:scaleX(1.2300);transform-origin:0 0;">1,629</span>
<div style="position:absolute;left:864.00px;top:1223.00px;width:81.00px;height:35.00px;background:#dde7f3;"></div>
<span style="position:absolute;left:873.18px;top:1230.60px;font:normal 700 20.86px/1 'Liberation Sans';color:#000;white-space:pre;transform:scaleX(1.2300);transform-origin:0 0;">6,486</span>
<div style="position:absolute;left:872.00px;top:841.00px;width:66.00px;height:36.00px;background:#f8c6a6;"></div>
<span style="position:absolute;left:885.72px;top:849.25px;font:normal 700 20.29px/1 'Liberation Sans';color:#000;white-space:pre;transform:scaleX(1.2580);transform-origin:0 0;">180</span>
<div style="position:absolute;left:888.00px;top:834.00px;width:32.00px;height:36.00px;background:#e3efdb;"></div>
<span style="position:absolute;left:897.53px;top:842.10px;font:normal 700 20.86px/1 'Liberation Sans';color:#000;white-space:pre;transform:scaleX(1.2300);transform-origin:0 0;">0</span>
<div style="position:absolute;left:1152.00px;top:908.00px;width:88.00px;height:35.00px;background:#a9abee;"></div>
<span style="position:absolute;left:1166.27px;top:915.80px;font:normal 700 20.86px/1 'Liberation Sans';color:#000;white-space:pre;transform:scaleX(1.2300);transform-origin:0 0;">2,468</span>
<div style="position:absolute;left:1149.00px;top:1219.00px;width:95.00px;height:36.00px;background:#dde7f3;"></div>
<span style="position:absolute;left:1157.44px;top:1227.35px;font:normal 700 20.86px/1 'Liberation Sans';color:#000;white-space:pre;transform:scaleX(1.2300);transform-origin:0 0;">10,533</span>
<div style="position:absolute;left:1163.00px;top:841.00px;width:66.00px;height:36.00px;background:#f8c6a6;"></div>
<span style="position:absolute;left:1177.40px;top:849.25px;font:normal 700 20.29px/1 'Liberation Sans';color:#000;white-space:pre;transform:scaleX(1.2580);transform-origin:0 0;">301</span>
<div style="position:absolute;left:1180.00px;top:834.00px;width:32.00px;height:36.00px;background:#e3efdb;"></div>
<span style="position:absolute;left:1189.38px;top:842.10px;font:normal 700 20.86px/1 'Liberation Sans';color:#000;white-space:pre;transform:scaleX(1.2300);transform-origin:0 0;">0</span>
<div style="position:absolute;left:1444.00px;top:904.00px;width:87.00px;height:36.00px;background:#a9abee;"></div>
<span style="position:absolute;left:1456.14px;top:912.30px;font:normal 700 20.86px/1 'Liberation Sans';color:#000;white-space:pre;transform:scaleX(1.2300);transform-origin:0 0;">3,375</span>
<div style="position:absolute;left:1440.00px;top:1216.00px;width:95.00px;height:35.00px;background:#dde7f3;"></div>
<span style="position:absolute;left:1448.54px;top:1223.80px;font:normal 700 20.86px/1 'Liberation Sans';color:#000;white-space:pre;transform:scaleX(1.2300);transform-origin:0 0;">15,609</span>
<div style="position:absolute;left:1454.00px;top:842.00px;width:66.00px;height:35.00px;background:#f8c6a6;"></div>
<span style="position:absolute;left:1468.25px;top:849.75px;font:normal 700 20.29px/1 'Liberation Sans';color:#000;white-space:pre;transform:scaleX(1.2580);transform-origin:0 0;">452</span>
<div style="position:absolute;left:1471.00px;top:834.00px;width:33.00px;height:36.00px;background:#e3efdb;"></div>
<span style="position:absolute;left:1480.63px;top:842.10px;font:normal 700 20.86px/1 'Liberation Sans';color:#000;white-space:pre;transform:scaleX(1.2300);transform-origin:0 0;">0</span>
<svg style="position:absolute;left:0;top:0" width="2902" height="1762" viewBox="0 0 2902 1762"><path d="M1642.5 888.8 L1699 888.8" stroke="#4bb3e8" stroke-width="3.8" stroke-linecap="round"/><circle cx="1669.8" cy="888.8" r="5" fill="#4bb3e8"/><path d="M1642.5 1020.5 L1699 1020.5" stroke="#4b52d0" stroke-width="3.8" stroke-linecap="round"/><rect x="1664.8" y="1015.5" width="10" height="10" fill="#4b52d0"/><path d="M1642.5 1152.8 L1699 1152.8" stroke="#f07b70" stroke-width="3.8" stroke-linecap="round"/><path d="M1664.2 1158.5 L1670.2 1147.5 L1676.2 1158.5 Z" fill="#f07b70"/><path d="M1642.5 1284.5 L1699 1284.5" stroke="#f0b323" stroke-width="3.8" stroke-linecap="round"/><path d="M1664.8 1279.5 L1674.8 1289.5 M1674.8 1279.5 L1664.8 1289.5" stroke="#f0b323" stroke-width="1.3"/><path d="M1642.5 1416.6 L1699 1416.6" stroke="#2fb5a5" stroke-width="3.8" stroke-linecap="round"/><rect x="1664.8" y="1411.6" width="11" height="11" fill="#4fb07a"/></svg>
<span style="position:absolute;left:1702.84px;top:879.00px;font:normal 700 21.43px/1 'Liberation Sans';color:#000;white-space:pre;transform:scaleX(1.1556);transform-origin:0 0;">Implementation</span>
<span style="position:absolute;left:1702.91px;top:905.50px;font:normal 700 21.43px/1 'Liberation Sans';color:#000;white-space:pre;transform:scaleX(1.0877);transform-origin:0 0;">Projects</span>
<span style="position:absolute;left:1704.00px;top:1010.70px;font:normal 700 21.43px/1 'Liberation Sans';color:#000;white-space:pre;transform:scaleX(1.0922);transform-origin:0 0;">Strategy &amp; Discovery</span>
<span style="position:absolute;left:1704.00px;top:1143.00px;font:normal 700 21.43px/1 'Liberation Sans';color:#000;white-space:pre;transform:scaleX(1.0857);transform-origin:0 0;">Ongoing Retainers</span>
<span style="position:absolute;left:1704.00px;top:1274.60px;font:normal 700 21.43px/1 'Liberation Sans';color:#000;white-space:pre;transform:scaleX(1.0571);transform-origin:0 0;">-</span>
<span style="position:absolute;left:1704.00px;top:1406.80px;font:normal 700 21.43px/1 'Liberation Sans';color:#000;white-space:pre;transform:scaleX(1.0974);transform-origin:0 0;">Other Revenue</span>
<svg style="position:absolute;left:0;top:0" width="2902" height="1762" viewBox="0 0 2902 1762"><path d="M2069 1487.5 L2846 1487.5 M2069 1416.5 L2846 1416.5 M2069 1346.5 L2846 1346.5 M2069 1275.5 L2846 1275.5 M2069 1204.5 L2846 1204.5 M2069 1134.5 L2846 1134.5 M2069 1063.5 L2846 1063.5 M2069 992.5 L2846 992.5 M2069 922.5 L2846 922.5 M2069 851.5 L2846 851.5 " stroke="#66a6c8" stroke-width="1" fill="none"/></svg>
<span style="position:absolute;left:2033.00px;top:1477.80px;font:normal 700 20.71px/1 'Liberation Sans';color:#000;white-space:pre;transform:scaleX(1.0857);transform-origin:0 0;">-</span>
<span style="position:absolute;left:1977.48px;top:1407.33px;font:normal 700 20.71px/1 'Liberation Sans';color:#000;white-space:pre;transform:scaleX(1.2345);transform-origin:0 0;">2,000</span>
<span style="position:absolute;left:1977.48px;top:1336.67px;font:normal 700 20.71px/1 'Liberation Sans';color:#000;white-space:pre;transform:scaleX(1.2345);transform-origin:0 0;">4,000</span>
<span style="position:absolute;left:1977.48px;top:1266.00px;font:normal 700 20.71px/1 'Liberation Sans';color:#000;white-space:pre;transform:scaleX(1.2345);transform-origin:0 0;">6,000</span>
<span style="position:absolute;left:1977.48px;top:1195.33px;font:normal 700 20.71px/1 'Liberation Sans';color:#000;white-space:pre;transform:scaleX(1.2345);transform-origin:0 0;">8,000</span>
<span style="position:absolute;left:1963.27px;top:1124.67px;font:normal 700 20.71px/1 'Liberation Sans';color:#000;white-space:pre;transform:scaleX(1.2345);transform-origin:0 0;">10,000</span>
<span style="position:absolute;left:1963.27px;top:1054.00px;font:normal 700 20.71px/1 'Liberation Sans';color:#000;white-space:pre;transform:scaleX(1.2345);transform-origin:0 0;">12,000</span>
<span style="position:absolute;left:1963.27px;top:983.33px;font:normal 700 20.71px/1 'Liberation Sans';color:#000;white-space:pre;transform:scaleX(1.2345);transform-origin:0 0;">14,000</span>
<span style="position:absolute;left:1963.27px;top:912.67px;font:normal 700 20.71px/1 'Liberation Sans';color:#000;white-space:pre;transform:scaleX(1.2345);transform-origin:0 0;">16,000</span>
<span style="position:absolute;left:1963.27px;top:842.00px;font:normal 700 20.71px/1 'Liberation Sans';color:#000;white-space:pre;transform:scaleX(1.2345);transform-origin:0 0;">18,000</span>
<span style="position:absolute;left:2119.00px;top:1506.30px;font:normal 700 20.43px/1 'Liberation Sans';color:#000;white-space:pre;transform:scaleX(1.2121);transform-origin:0 0;">2026</span>
<span style="position:absolute;left:2274.70px;top:1506.30px;font:normal 700 20.43px/1 'Liberation Sans';color:#000;white-space:pre;transform:scaleX(1.2121);transform-origin:0 0;">2027</span>
<span style="position:absolute;left:2430.40px;top:1506.30px;font:normal 700 20.43px/1 'Liberation Sans';color:#000;white-space:pre;transform:scaleX(1.2121);transform-origin:0 0;">2028</span>
<span style="position:absolute;left:2586.10px;top:1506.30px;font:normal 700 20.43px/1 'Liberation Sans';color:#000;white-space:pre;transform:scaleX(1.2121);transform-origin:0 0;">2029</span>
<span style="position:absolute;left:2741.80px;top:1506.30px;font:normal 700 20.43px/1 'Liberation Sans';color:#000;white-space:pre;transform:scaleX(1.2121);transform-origin:0 0;">2030</span>
<svg style="position:absolute;left:0;top:0" width="2902" height="1762" viewBox="0 0 2902 1762"><polyline points="2146.30,1446.80 2302.00,1375.95 2457.70,1258.33 2613.40,1115.33 2769.10,935.98" fill="none" stroke="#4bb3e8" stroke-width="3.8" stroke-linejoin="round" stroke-linecap="round"/><circle cx="2146.30" cy="1446.80" r="6.6" fill="#4bb3e8"/><circle cx="2302.00" cy="1375.95" r="6.6" fill="#4bb3e8"/><circle cx="2457.70" cy="1258.33" r="6.6" fill="#4bb3e8"/><circle cx="2613.40" cy="1115.33" r="6.6" fill="#4bb3e8"/><circle cx="2769.10" cy="935.98" r="6.6" fill="#4bb3e8"/><polyline points="2146.30,1473.97 2302.00,1455.28 2457.70,1429.94 2613.40,1400.30 2769.10,1368.25" fill="none" stroke="#4b52d0" stroke-width="3.8" stroke-linejoin="round" stroke-linecap="round"/><rect x="2138.00" y="1465.67" width="16.6" height="16.6" fill="#4b52d0"/><rect x="2293.70" y="1446.98" width="16.6" height="16.6" fill="#4b52d0"/><rect x="2449.40" y="1421.64" width="16.6" height="16.6" fill="#4b52d0"/><rect x="2605.10" y="1392.00" width="16.6" height="16.6" fill="#4b52d0"/><rect x="2760.80" y="1359.95" width="16.6" height="16.6" fill="#4b52d0"/><polyline points="2146.30,1486.48 2302.00,1484.53 2457.70,1481.14 2613.40,1476.86 2769.10,1471.53" fill="none" stroke="#f07b70" stroke-width="3.8" stroke-linejoin="round" stroke-linecap="round"/><path d="M2136.80 1492.98 L2146.30 1476.98 L2155.80 1492.98 Z" fill="#f07b70"/><path d="M2292.50 1491.03 L2302.00 1475.03 L2311.50 1491.03 Z" fill="#f07b70"/><path d="M2448.20 1487.64 L2457.70 1471.64 L2467.20 1487.64 Z" fill="#f07b70"/><path d="M2603.90 1483.36 L2613.40 1467.36 L2622.90 1483.36 Z" fill="#f07b70"/><path d="M2759.60 1478.03 L2769.10 1462.03 L2778.60 1478.03 Z" fill="#f07b70"/><polyline points="2146.30,1487.50 2302.00,1487.50 2457.70,1487.50 2613.40,1487.50 2769.10,1487.50" fill="none" stroke="#f0b323" stroke-width="3.8" stroke-linejoin="round" stroke-linecap="round"/><polyline points="2146.30,1487.50 2302.00,1487.50 2457.70,1487.50 2613.40,1487.50 2769.10,1487.50" fill="none" stroke="#2fb5a5" stroke-width="3.8" stroke-linejoin="round" stroke-linecap="round"/><rect x="2138.00" y="1479.20" width="16.6" height="16.6" fill="#2fb5a5"/><rect x="2293.70" y="1479.20" width="16.6" height="16.6" fill="#2fb5a5"/><rect x="2449.40" y="1479.20" width="16.6" height="16.6" fill="#2fb5a5"/><rect x="2605.10" y="1479.20" width="16.6" height="16.6" fill="#2fb5a5"/><rect x="2760.80" y="1479.20" width="16.6" height="16.6" fill="#2fb5a5"/></svg>
<div style="position:absolute;left:83.00px;top:1618.00px;width:1494.00px;height:1.00px;background:#5aafdc;"></div>
<div style="position:absolute;left:1618.00px;top:1646.00px;width:11.00px;height:12.00px;background:#4bb3e8;"></div>
<span style="position:absolute;left:1633.59px;top:1641.30px;font:normal 700 22.29px/1 'Liberation Sans';color:#000;white-space:pre;transform:scaleX(1.1121);transform-origin:0 0;">Implementation</span>
<div style="position:absolute;left:2542.00px;top:1577.00px;width:305.00px;height:29.00px;background:#fff066;box-sizing:border-box;border:1px solid #d2d2d2;"></div>
<span style="position:absolute;left:2668.00px;top:1582.00px;font:normal 700 22.29px/1 'Liberation Sans';color:#222;white-space:pre;transform:scaleX(1.1028);transform-origin:0 0;">2026</span>
<svg style="position:absolute;left:0;top:0" width="2902" height="1762" viewBox="0 0 2902 1762"><path d="M2238.5 1655 L2251 1655 L2290 1672" fill="none" stroke="#404040" stroke-width="1.2"/><path d="M2374.5 1654 L2374.5 1658" stroke="#404040" stroke-width="1.2"/></svg>
<div style="position:absolute;left:2158.00px;top:1636.00px;width:80.00px;height:44.00px;background:#ffffff;box-sizing:border-box;border:1.6px solid #404040;"></div>
<span style="position:absolute;left:2166.80px;top:1646.00px;font:normal 700 22.29px/1 'Liberation Sans';color:#000;white-space:pre;transform:scaleX(1.2011);transform-origin:0 0;">1.8%</span>
<div style="position:absolute;left:2352.00px;top:1619.00px;width:79.00px;height:35.00px;background:#ffffff;box-sizing:border-box;border:1.6px solid #404040;"></div>
<span style="position:absolute;left:2361.00px;top:1626.90px;font:normal 700 22.29px/1 'Liberation Sans';color:#000;white-space:pre;transform:scaleX(1.1776);transform-origin:0 0;">0.0%</span>
<div style="position:absolute;left:2335.00px;top:1658.00px;width:79.00px;height:32.00px;background:#ffffff;box-sizing:border-box;border:1.6px solid #404040;"></div>
<span style="position:absolute;left:2344.00px;top:1665.50px;font:normal 700 22.29px/1 'Liberation Sans';color:#000;white-space:pre;transform:scaleX(1.1776);transform-origin:0 0;">0.0%</span>
<div style="position:absolute;left:2860.00px;top:278.00px;width:30.00px;height:1392.00px;background:#0a0a0a;"></div>
<div style="position:absolute;left:2862.00px;top:279.00px;width:27.00px;height:1392.00px;background:#141414;border-radius:13px;"></div>
<svg style="position:absolute;left:0;top:0" width="2902" height="1762" viewBox="0 0 2902 1762"><path d="M2876 286.5 L2882.8 295.6 L2869.2 295.6 Z" fill="#9b9b9b" stroke="#9b9b9b" stroke-width="1.2" stroke-linejoin="round"/></svg>
<div style="position:absolute;left:2870.00px;top:304.00px;width:12.00px;height:562.00px;background:#9b9b9b;border-radius:6.1px;"></div>
<svg style="position:absolute;left:0;top:0" width="2902" height="1762" viewBox="0 0 2902 1762"><path d="M2876 1664 L2882.8 1654.8 L2869.2 1654.8 Z" fill="#9b9b9b" stroke="#9b9b9b" stroke-width="1.2" stroke-linejoin="round"/></svg>
<div style="position:absolute;left:11.00px;top:1670.00px;width:2879.00px;height:48.00px;background:#0c0c0c;"></div>
<div style="position:absolute;left:1870.00px;top:1670.00px;width:163.00px;height:44.00px;background:#0c0c0c;"></div>
<div style="position:absolute;left:1875.8px;top:1668px;width:150.9px;height:43.4px;background:linear-gradient(#ffffff 0%,#f4f9fd 40%,#d9ecf9 100%);border-radius:0 0 6px 6px;"></div>
<div style="position:absolute;left:1868.00px;top:1670.00px;width:8.00px;height:8.00px;background:#ffffff;"></div>
<div style="position:absolute;left:2027.00px;top:1670.00px;width:7.00px;height:8.00px;background:#ffffff;"></div>
<div style="position:absolute;left:1866px;top:1670px;width:9.8px;height:20px;background:#0c0c0c;border-radius:0 8px 0 0;"></div>
<div style="position:absolute;left:2026.7px;top:1670px;width:9.8px;height:20px;background:#0c0c0c;border-radius:8px 0 0 0;"></div>
<span style="position:absolute;left:1888.20px;top:1680.50px;font:normal 400 20.58px/1 'Liberation Sans';color:#1b1b1b;white-space:pre;">Top_Revenue</span>
<div style="position:absolute;left:1888.00px;top:1705.00px;width:127.00px;height:3.00px;background:#1e8c4e;"></div>
<div style="position:absolute;left:177.00px;top:1676.00px;width:89.00px;height:36.00px;background:#fdeb6e;border-radius:6px;"></div>
<span style="position:absolute;left:190.31px;top:1684.80px;font:normal 400 21.74px/1 'Liberation Sans';color:#111111;white-space:pre;transform:scaleX(0.9355);transform-origin:0 0;">Payroll</span>
<div style="position:absolute;left:279.00px;top:1676.00px;width:87.00px;height:36.00px;background:#fdeb6e;border-radius:6px;"></div>
<span style="position:absolute;left:291.58px;top:1684.80px;font:normal 400 21.74px/1 'Liberation Sans';color:#111111;white-space:pre;transform:scaleX(0.8217);transform-origin:0 0;">CAPEX</span>
<div style="position:absolute;left:379.00px;top:1676.00px;width:112.00px;height:36.00px;background:#fdeb6e;border-radius:6px;"></div>
<span style="position:absolute;left:391.71px;top:1684.80px;font:normal 400 21.74px/1 'Liberation Sans';color:#111111;white-space:pre;transform:scaleX(0.9406);transform-origin:0 0;">CapTable</span>
<div style="position:absolute;left:505.00px;top:1676.00px;width:90.00px;height:36.00px;background:#fdeb6e;border-radius:6px;"></div>
<span style="position:absolute;left:517.54px;top:1684.80px;font:normal 400 21.74px/1 'Liberation Sans';color:#111111;white-space:pre;transform:scaleX(0.9562);transform-origin:0 0;">Capital</span>
<div style="position:absolute;left:608.00px;top:1676.00px;width:41.00px;height:36.00px;background:#4bb1e6;border-radius:6px;"></div>
<span style="position:absolute;left:619.78px;top:1684.80px;font:normal 400 21.74px/1 'Liberation Sans';color:#111111;white-space:pre;transform:scaleX(0.8096);transform-origin:0 0;">IS</span>
<div style="position:absolute;left:663.00px;top:1676.00px;width:48.00px;height:36.00px;background:#4bb1e6;border-radius:6px;"></div>
<span style="position:absolute;left:675.09px;top:1684.80px;font:normal 400 21.74px/1 'Liberation Sans';color:#111111;white-space:pre;transform:scaleX(0.8055);transform-origin:0 0;">CF</span>
<div style="position:absolute;left:724.00px;top:1676.00px;width:47.00px;height:36.00px;background:#4bb1e6;border-radius:6px;"></div>
<span style="position:absolute;left:735.95px;top:1684.80px;font:normal 400 21.74px/1 'Liberation Sans';color:#111111;white-space:pre;transform:scaleX(0.8004);transform-origin:0 0;">BS</span>
<div style="position:absolute;left:785.00px;top:1676.00px;width:115.00px;height:36.00px;background:#4bb1e6;border-radius:6px;"></div>
<span style="position:absolute;left:798.95px;top:1684.80px;font:normal 400 21.74px/1 'Liberation Sans';color:#111111;white-space:pre;transform:scaleX(0.9016);transform-origin:0 0;">Scenarios</span>
<div style="position:absolute;left:913.00px;top:1676.00px;width:115.00px;height:36.00px;background:#4bb1e6;border-radius:6px;"></div>
<span style="position:absolute;left:926.90px;top:1684.80px;font:normal 400 21.74px/1 'Liberation Sans';color:#111111;white-space:pre;transform:scaleX(0.9889);transform-origin:0 0;">Valuation</span>
<div style="position:absolute;left:1041.00px;top:1676.00px;width:114.00px;height:36.00px;background:#4bb1e6;border-radius:6px;"></div>
<span style="position:absolute;left:1054.75px;top:1684.80px;font:normal 400 21.74px/1 'Liberation Sans';color:#111111;white-space:pre;transform:scaleX(0.9295);transform-origin:0 0;">Summary</span>
<div style="position:absolute;left:1168.00px;top:1676.00px;width:48.00px;height:36.00px;background:#4bb1e6;border-radius:6px;"></div>
<span style="position:absolute;left:1180.63px;top:1684.80px;font:normal 400 21.74px/1 'Liberation Sans';color:#111111;white-space:pre;transform:scaleX(0.7677);transform-origin:0 0;">BE</span>
<div style="position:absolute;left:1229.00px;top:1676.00px;width:72.00px;height:36.00px;background:#4bb1e6;border-radius:6px;"></div>
<span style="position:absolute;left:1241.39px;top:1684.80px;font:normal 400 21.74px/1 'Liberation Sans';color:#111111;white-space:pre;transform:scaleX(0.8648);transform-origin:0 0;">ROIC</span>
<div style="position:absolute;left:1314.00px;top:1676.00px;width:84.00px;height:36.00px;background:#4bb1e6;border-radius:6px;"></div>
<span style="position:absolute;left:1326.54px;top:1684.80px;font:normal 400 21.74px/1 'Liberation Sans';color:#111111;white-space:pre;transform:scaleX(0.9143);transform-origin:0 0;">Charts</span>
<div style="position:absolute;left:1412.00px;top:1676.00px;width:64.00px;height:36.00px;background:#4bb1e6;border-radius:6px;"></div>
<span style="position:absolute;left:1424.89px;top:1684.80px;font:normal 400 21.74px/1 'Liberation Sans';color:#111111;white-space:pre;transform:scaleX(0.8110);transform-origin:0 0;">KPIs</span>
<div style="position:absolute;left:1489.00px;top:1676.00px;width:169.00px;height:36.00px;background:#4bb1e6;border-radius:6px;"></div>
<span style="position:absolute;left:1502.20px;top:1684.80px;font:normal 400 21.74px/1 'Liberation Sans';color:#111111;white-space:pre;transform:scaleX(0.9143);transform-origin:0 0;">Sources &amp; Uses</span>
<div style="position:absolute;left:1671.00px;top:1676.00px;width:83.00px;height:36.00px;background:#4bb1e6;border-radius:6px;"></div>
<span style="position:absolute;left:1684.46px;top:1684.80px;font:normal 400 21.74px/1 'Liberation Sans';color:#111111;white-space:pre;transform:scaleX(0.8945);transform-origin:0 0;">Ratios</span>
<div style="position:absolute;left:1768.00px;top:1676.00px;width:94.00px;height:36.00px;background:#4bb1e6;border-radius:6px;"></div>
<span style="position:absolute;left:1779.89px;top:1684.80px;font:normal 400 21.74px/1 'Liberation Sans';color:#111111;white-space:pre;transform:scaleX(0.9551);transform-origin:0 0;">DuPont</span>
<div style="position:absolute;left:272.00px;top:1681.00px;width:1.00px;height:25.00px;background:#555555;"></div>
<div style="position:absolute;left:372.00px;top:1681.00px;width:1.00px;height:25.00px;background:#555555;"></div>
<div style="position:absolute;left:498.00px;top:1681.00px;width:1.00px;height:25.00px;background:#555555;"></div>
<div style="position:absolute;left:600.00px;top:1681.00px;width:2.00px;height:25.00px;background:#555555;"></div>
<div style="position:absolute;left:656.00px;top:1681.00px;width:1.00px;height:25.00px;background:#555555;"></div>
<div style="position:absolute;left:717.00px;top:1681.00px;width:1.00px;height:25.00px;background:#555555;"></div>
<div style="position:absolute;left:778.00px;top:1681.00px;width:1.00px;height:25.00px;background:#555555;"></div>
<div style="position:absolute;left:906.00px;top:1681.00px;width:1.00px;height:25.00px;background:#555555;"></div>
<div style="position:absolute;left:1034.00px;top:1681.00px;width:1.00px;height:25.00px;background:#555555;"></div>
<div style="position:absolute;left:1161.00px;top:1681.00px;width:1.00px;height:25.00px;background:#555555;"></div>
<div style="position:absolute;left:1222.00px;top:1681.00px;width:1.00px;height:25.00px;background:#555555;"></div>
<div style="position:absolute;left:1307.00px;top:1681.00px;width:1.00px;height:25.00px;background:#555555;"></div>
<div style="position:absolute;left:1405.00px;top:1681.00px;width:1.00px;height:25.00px;background:#555555;"></div>
<div style="position:absolute;left:1482.00px;top:1681.00px;width:1.00px;height:25.00px;background:#555555;"></div>
<div style="position:absolute;left:1664.00px;top:1681.00px;width:1.00px;height:25.00px;background:#555555;"></div>
<div style="position:absolute;left:1760.00px;top:1681.00px;width:1.00px;height:25.00px;background:#555555;"></div>
<div style="position:absolute;left:1869.00px;top:1681.00px;width:1.00px;height:25.00px;background:#555555;"></div>
<div style="position:absolute;left:2033.00px;top:1681.00px;width:1.00px;height:25.00px;background:#555555;"></div>
<div style="position:absolute;left:2040.2px;top:1676px;width:31.8px;height:35.7px;background:#4bb1e6;border-radius:6px 0 0 6px;overflow:hidden;"></div>
<span style="position:absolute;left:2054.00px;top:1684.80px;font:normal 400 21.74px/1 'Liberation Sans';color:#111111;white-space:pre;transform:scaleX(0.9355);transform-origin:0 0;clip-path:inset(0 0 0 0);">To</span>
<div style="position:absolute;left:2072.00px;top:1676.00px;width:8.00px;height:36.00px;background:#0c0c0c;"></div>
<svg style="position:absolute;left:0;top:0" width="2902" height="1762" viewBox="0 0 2902 1762"><g fill="none" stroke="#d0d0d0" stroke-width="1.6">
<path d="M55 1686.5 L46 1693.2 L55 1699.8"/><path d="M94.5 1686.5 L103.5 1693.2 L94.5 1699.8"/></g>
<g fill="#d0d0d0"><circle cx="140" cy="1692.5" r="2.3"/><circle cx="146.4" cy="1692.5" r="2.3"/><circle cx="152.8" cy="1692.5" r="2.3"/>
<circle cx="2089.3" cy="1692.7" r="2.3"/><circle cx="2095.5" cy="1692.7" r="2.3"/><circle cx="2101.7" cy="1692.7" r="2.3"/>
<rect x="2190.6" y="1686.5" width="2.6" height="2.6"/><rect x="2190.6" y="1692.6" width="2.6" height="2.6"/><rect x="2190.6" y="1698.7" width="2.6" height="2.6"/></g>
<path d="M2143.5 1684.3 L2143.5 1701.3 M2135 1692.8 L2152 1692.8" stroke="#e0e0e0" stroke-width="1.5"/></svg>
<div style="position:absolute;left:2216.00px;top:1680.00px;width:643.00px;height:26.00px;background:#161616;border-radius:13px;"></div>
<svg style="position:absolute;left:0;top:0" width="2902" height="1762" viewBox="0 0 2902 1762"><path d="M2225 1693 L2234 1686.5 L2234 1699.5 Z" fill="#9b9b9b" stroke="#9b9b9b" stroke-width="1.2" stroke-linejoin="round"/><path d="M2851.8 1693 L2842.3 1686.5 L2842.3 1699.5 Z" fill="#9b9b9b" stroke="#9b9b9b" stroke-width="1.2" stroke-linejoin="round"/></svg>
<div style="position:absolute;left:2242.00px;top:1687.00px;width:508.00px;height:12.00px;background:#9b9b9b;border-radius:5.7px;"></div>
<div style="position:absolute;left:11.00px;top:1718.00px;width:2879.00px;height:33.00px;background:#141414;"></div>
<div style="position:absolute;left:11.00px;top:1718.00px;width:2879.00px;height:1.00px;background:#2e2e2e;"></div>
<span style="position:absolute;left:26.34px;top:1727.80px;font:normal 400 17.10px/1 'Liberation Sans';color:#dcdcdc;white-space:pre;transform:scaleX(0.8595);transform-origin:0 0;">Ready</span>
<svg style="position:absolute;left:0;top:0" width="2902" height="1762" viewBox="0 0 2902 1762"><g fill="none" stroke="#dcdcdc" stroke-width="1.4">
<path d="M100 1727 L120 1727 L120 1735 M100 1727 L100 1744.5 L110 1744.5"/><path d="M100 1730.5 L120 1730.5"/>
<path d="M103 1734.5 L109 1734.5 M103 1738.5 L108 1738.5"/>
<circle cx="115.5" cy="1739.5" r="5"/></g><circle cx="115.5" cy="1739.5" r="2.3" fill="#dcdcdc"/><g fill="none" stroke="#dcdcdc" stroke-width="1.5" stroke-linecap="round">
<circle cx="156.5" cy="1728.5" r="2.2"/>
<path d="M147 1732 Q152 1735 156.5 1733 Q161 1735 166 1732"/>
<path d="M156.5 1733 L155.5 1739 L151 1745.5 M155.5 1739 L159 1741"/>
<path d="M159.5 1738.5 L166.5 1745.5 M166.5 1738.5 L159.5 1745.5"/></g></svg>
<span style="position:absolute;left:173.60px;top:1728.80px;font:normal 700 16.86px/1 'Liberation Sans';color:#f0f0f0;white-space:pre;transform:scaleX(0.9293);transform-origin:0 0;">Accessibility: Investigate</span>
<div style="position:absolute;left:2445.00px;top:1719.00px;width:60.00px;height:32.00px;background:#262626;"></div>
<svg style="position:absolute;left:0;top:0" width="2902" height="1762" viewBox="0 0 2902 1762"><g fill="none" stroke="#dcdcdc" stroke-width="1.4">
<rect x="2465" y="1725.8" width="19.5" height="17"/><path d="M2465 1731.5 L2484.5 1731.5 M2465 1737.2 L2484.5 1737.2 M2471.5 1725.8 L2471.5 1742.8 M2478 1725.8 L2478 1742.8"/>
<rect x="2524.7" y="1725.8" width="20.6" height="17"/><rect x="2528.2" y="1729" width="13.6" height="10.6"/><path d="M2531 1732.5 L2539 1732.5 M2531 1735.8 L2539 1735.8"/>
<rect x="2584.5" y="1725.8" width="20.6" height="17"/><path d="M2590.5 1725.8 L2590.5 1735.5 L2599 1735.5 L2599 1725.8"/>
</g>
<path d="M2633 1734.3 L2645 1734.3" stroke="#dcdcdc" stroke-width="1.4"/>
<path d="M2653.2 1734.8 L2800.9 1734.8" stroke="#9a9a9a" stroke-width="1.6"/>
<path d="M2727.6 1731 L2727.6 1738.5" stroke="#cfcfcf" stroke-width="1.2"/>
<path d="M2809.5 1734.9 L2820.5 1734.9 M2815 1729.4 L2815 1740.4" stroke="#dcdcdc" stroke-width="1.4"/></svg>
<div style="position:absolute;left:2733.00px;top:1726.00px;width:8.00px;height:17.00px;background:#bdbdbd;border-radius:1.5px;"></div>
<span style="position:absolute;left:2839.83px;top:1728.10px;font:normal 400 15.80px/1 'Liberation Sans';color:#dcdcdc;white-space:pre;transform:scaleX(0.9662);transform-origin:0 0;">140%</span>
</body></html>
